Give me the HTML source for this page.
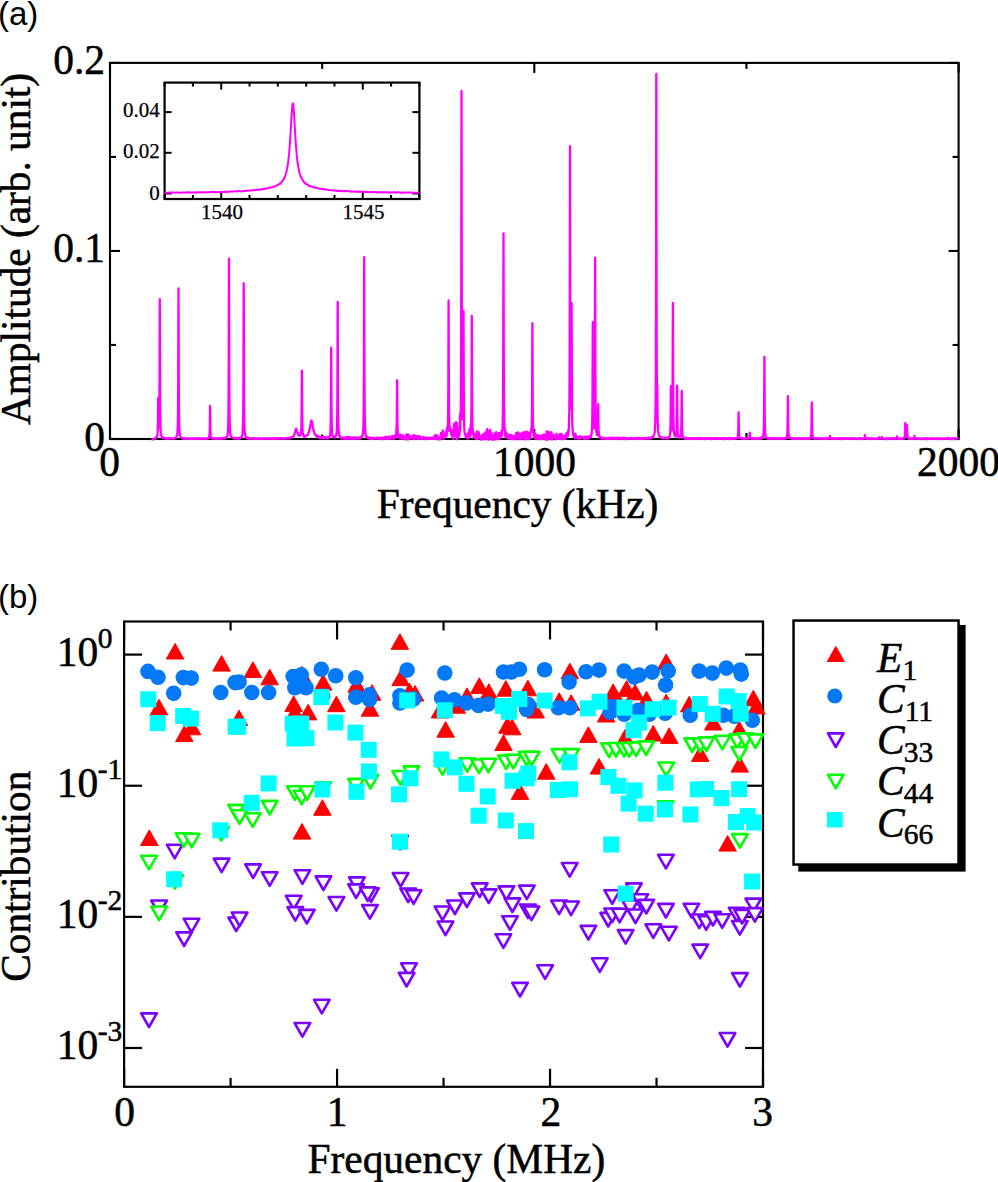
<!DOCTYPE html>
<html><head><meta charset="utf-8"><title>Figure</title>
<style>html,body{margin:0;padding:0;background:#fff;} svg{display:block;}</style>
</head><body>
<svg width="998" height="1182" viewBox="0 0 998 1182"><style>text{stroke:#000;stroke-width:0.5px;}</style><rect x="110.0" y="62.9" width="848.6" height="376.1" fill="none" stroke="#000" stroke-width="2.1"/>
<line x1="110.0" y1="439.0" x2="110.0" y2="429.0" stroke="#000" stroke-width="2.1"/>
<line x1="110.0" y1="62.9" x2="110.0" y2="72.9" stroke="#000" stroke-width="2.1"/>
<line x1="322.15" y1="439.0" x2="322.15" y2="434.5" stroke="#000" stroke-width="2.1"/>
<line x1="322.15" y1="62.9" x2="322.15" y2="68.9" stroke="#000" stroke-width="2.1"/>
<line x1="534.3" y1="439.0" x2="534.3" y2="429.0" stroke="#000" stroke-width="2.1"/>
<line x1="534.3" y1="62.9" x2="534.3" y2="72.9" stroke="#000" stroke-width="2.1"/>
<line x1="746.45" y1="439.0" x2="746.45" y2="433.0" stroke="#000" stroke-width="2.1"/>
<line x1="746.45" y1="62.9" x2="746.45" y2="68.9" stroke="#000" stroke-width="2.1"/>
<line x1="958.6" y1="439.0" x2="958.6" y2="429.0" stroke="#000" stroke-width="2.1"/>
<line x1="958.6" y1="62.9" x2="958.6" y2="72.9" stroke="#000" stroke-width="2.1"/>
<line x1="110.0" y1="439.0" x2="120.0" y2="439.0" stroke="#000" stroke-width="2.1"/>
<line x1="958.6" y1="439.0" x2="948.6" y2="439.0" stroke="#000" stroke-width="2.1"/>
<line x1="110.0" y1="344.975" x2="116.0" y2="344.975" stroke="#000" stroke-width="2.1"/>
<line x1="958.6" y1="344.975" x2="952.6" y2="344.975" stroke="#000" stroke-width="2.1"/>
<line x1="110.0" y1="250.95" x2="120.0" y2="250.95" stroke="#000" stroke-width="2.1"/>
<line x1="958.6" y1="250.95" x2="948.6" y2="250.95" stroke="#000" stroke-width="2.1"/>
<line x1="110.0" y1="156.925" x2="116.0" y2="156.925" stroke="#000" stroke-width="2.1"/>
<line x1="958.6" y1="156.925" x2="952.6" y2="156.925" stroke="#000" stroke-width="2.1"/>
<line x1="110.0" y1="62.89999999999998" x2="120.0" y2="62.89999999999998" stroke="#000" stroke-width="2.1"/>
<line x1="958.6" y1="62.89999999999998" x2="948.6" y2="62.89999999999998" stroke="#000" stroke-width="2.1"/>
<polyline fill="none" stroke="#ff00ff" stroke-width="2.3" stroke-linejoin="round" points="151.50,439.8 151.75,439.7 152.00,439.6 152.25,439.6 152.50,439.3 152.75,439.2 153.00,439.2 153.25,439.1 153.50,439.1 153.75,439.0 154.00,438.8 154.25,438.6 154.50,438.5 154.75,438.6 155.00,438.4 155.25,438.0 155.50,438.2 155.75,438.0 156.00,438.0 156.25,437.6 156.50,437.3 156.75,437.1 157.00,436.7 157.25,435.9 157.50,434.2 157.60,432.9 157.75,429.7 157.80,428.3 157.95,420.2 158.00,415.8 158.08,407.1 158.20,398.0 158.25,399.7 158.32,406.4 158.45,418.6 158.50,421.6 158.60,425.2 158.75,427.7 158.80,427.8 159.00,426.4 159.20,420.4 159.25,418.1 159.40,405.4 159.50,389.1 159.55,377.2 159.68,330.8 159.75,305.9 159.80,299.1 159.92,331.0 160.00,362.1 160.05,377.5 160.20,406.0 160.25,411.5 160.40,421.9 160.50,426.1 160.75,431.6 161.00,433.9 161.25,435.1 161.50,436.1 161.75,437.0 162.00,437.4 162.25,437.6 162.50,437.1 162.75,437.3 163.00,438.0 163.25,438.1 163.50,438.2 163.75,438.3 164.00,437.8 164.25,438.3 164.50,438.4 164.75,438.1 165.00,438.5 165.25,438.1 165.50,438.3 165.75,438.5 166.00,438.6 166.25,438.2 166.50,438.6 166.75,438.4 167.00,438.8 167.25,438.7 167.50,438.5 167.75,438.4 168.00,438.6 168.25,438.3 168.50,438.6 168.75,438.2 169.00,438.0 169.25,438.5 169.50,438.8 169.75,438.1 170.00,438.4 170.25,438.3 170.50,438.2 170.75,438.4 171.00,438.4 171.25,438.4 171.50,438.6 171.75,438.5 172.00,438.7 172.25,438.5 172.50,438.5 172.75,438.6 173.00,438.6 173.25,438.6 173.50,438.4 173.75,438.2 174.00,438.5 174.25,438.5 174.50,438.4 174.75,438.4 175.00,438.2 175.25,438.0 175.50,437.8 175.75,437.6 176.00,437.2 176.25,436.9 176.50,436.8 176.75,436.3 177.00,435.0 177.25,434.1 177.50,431.5 177.75,427.0 177.90,421.0 178.00,414.3 178.10,403.9 178.25,373.2 178.38,322.8 178.50,288.4 178.62,322.8 178.75,373.0 178.90,403.9 179.00,414.1 179.10,421.0 179.25,427.0 179.50,431.9 179.75,433.9 180.00,435.8 180.25,436.5 180.50,436.8 180.75,437.3 181.00,437.3 181.25,437.6 181.50,437.7 181.75,437.8 182.00,437.8 182.25,438.1 182.50,438.4 182.75,438.3 183.00,438.1 183.25,438.4 183.50,438.4 183.75,438.0 184.00,438.7 184.25,438.5 184.50,438.3 184.75,438.5 185.00,438.6 185.25,438.4 185.50,438.7 185.75,438.8 186.00,438.4 186.25,438.7 186.50,438.4 186.75,438.6 187.00,438.6 187.25,438.8 187.50,438.6 187.75,438.8 188.00,438.3 188.25,438.9 188.50,438.1 188.75,438.3 189.00,438.3 189.25,438.5 189.50,438.5 189.75,438.8 190.00,438.9 190.25,438.8 190.50,438.7 190.75,438.9 191.00,438.9 191.25,438.6 191.50,438.4 191.75,438.7 192.00,438.6 192.25,438.2 192.50,438.9 192.75,438.9 193.00,438.6 193.25,438.6 193.50,438.8 193.75,438.8 194.00,438.7 194.25,438.8 194.50,438.6 194.75,438.5 195.00,438.9 195.25,438.9 195.50,438.7 195.75,438.3 196.00,438.8 196.25,438.9 196.50,438.9 196.75,438.2 197.00,438.5 197.25,438.2 197.50,438.3 197.75,438.5 198.00,438.8 198.25,438.6 198.50,438.7 198.75,438.3 199.00,438.4 199.25,438.3 199.50,438.6 199.75,438.4 200.00,438.7 200.25,438.8 200.50,438.3 200.75,438.3 201.00,438.7 201.25,438.5 201.50,438.6 201.75,438.7 202.00,438.7 202.25,438.5 202.50,438.7 202.75,438.8 203.00,438.8 203.25,438.9 203.50,438.7 203.75,438.5 204.00,438.7 204.25,438.9 204.50,438.8 204.75,438.6 205.00,438.7 205.25,438.7 205.50,438.7 205.75,438.7 206.00,438.6 206.25,438.3 206.50,438.5 206.75,438.4 207.00,438.4 207.25,438.2 207.50,438.7 207.75,438.5 208.00,438.3 208.25,438.2 208.50,438.2 208.75,437.4 209.00,437.0 209.25,436.5 209.50,434.8 209.70,431.2 209.75,429.5 209.85,424.5 209.98,413.5 210.00,411.6 210.10,406.0 210.22,413.5 210.25,416.3 210.35,424.4 210.50,431.2 210.70,434.9 210.75,435.4 211.00,436.6 211.25,437.6 211.50,437.8 211.75,438.3 212.00,438.5 212.25,438.0 212.50,438.3 212.75,438.5 213.00,438.5 213.25,438.6 213.50,438.5 213.75,438.6 214.00,438.6 214.25,438.6 214.50,438.3 214.75,438.2 215.00,438.3 215.25,438.6 215.50,438.4 215.75,438.4 216.00,438.8 216.25,438.7 216.50,438.8 216.75,438.8 217.00,438.8 217.25,438.3 217.50,438.6 217.75,438.8 218.00,438.2 218.25,438.4 218.50,438.6 218.75,438.7 219.00,438.5 219.25,438.4 219.50,438.5 219.75,438.4 220.00,438.1 220.25,438.8 220.50,438.1 220.75,438.6 221.00,438.3 221.25,438.5 221.50,438.5 221.75,438.2 222.00,438.8 222.25,438.7 222.50,438.5 222.75,438.5 223.00,438.5 223.25,438.4 223.50,438.2 223.75,438.3 224.00,437.8 224.25,437.9 224.50,438.1 224.75,437.9 225.00,438.1 225.25,438.3 225.50,437.9 225.75,437.6 226.00,437.5 226.25,437.4 226.50,437.3 226.75,436.9 227.00,436.7 227.25,436.0 227.50,435.0 227.75,433.3 228.00,430.4 228.25,424.2 228.40,417.3 228.50,409.5 228.60,397.0 228.75,360.1 228.88,300.0 229.00,258.7 229.12,300.0 229.25,360.1 229.40,396.8 229.50,409.4 229.60,417.2 229.75,424.1 230.00,430.2 230.25,433.0 230.50,435.1 230.75,435.7 231.00,436.0 231.25,436.7 231.50,437.2 231.75,437.4 232.00,437.2 232.25,437.6 232.50,437.7 232.75,437.8 233.00,437.8 233.25,438.1 233.50,438.1 233.75,438.4 234.00,438.2 234.25,438.5 234.50,438.0 234.75,438.1 235.00,438.4 235.25,437.9 235.50,438.5 235.75,438.2 236.00,438.4 236.25,438.3 236.50,438.5 236.75,438.3 237.00,438.2 237.25,438.6 237.50,438.0 237.75,438.5 238.00,438.2 238.25,438.5 238.50,438.0 238.75,438.2 239.00,438.4 239.25,438.5 239.50,438.4 239.75,437.9 240.00,437.8 240.25,437.5 240.50,437.8 240.75,437.8 241.00,437.8 241.25,437.5 241.50,436.9 241.75,436.9 242.00,436.0 242.25,435.4 242.50,433.7 242.75,430.7 243.00,424.5 243.10,420.1 243.25,408.7 243.30,402.6 243.45,370.8 243.50,353.5 243.58,318.8 243.70,283.1 243.75,290.7 243.82,318.7 243.95,370.9 244.00,384.4 244.10,402.7 244.25,417.4 244.30,420.0 244.50,427.8 244.75,432.3 245.00,434.3 245.25,435.3 245.50,436.4 245.75,436.9 246.00,437.3 246.25,437.7 246.50,437.7 246.75,438.0 247.00,437.5 247.25,437.8 247.50,438.2 247.75,438.3 248.00,437.8 248.25,438.0 248.50,438.6 248.75,438.4 249.00,438.1 249.25,438.5 249.50,438.2 249.75,438.7 250.00,438.5 250.25,438.3 250.50,438.4 250.75,438.5 251.00,438.4 251.25,438.7 251.50,438.8 251.75,438.1 252.00,438.5 252.25,438.2 252.50,438.4 252.75,438.8 253.00,438.4 253.25,438.8 253.50,438.8 253.75,438.7 254.00,438.8 254.25,438.1 254.50,438.5 254.75,438.5 255.00,438.7 255.25,438.5 255.50,438.8 255.75,438.8 256.00,438.6 256.25,438.6 256.50,438.9 256.75,438.7 257.00,438.5 257.25,438.9 257.50,438.9 257.75,438.8 258.00,438.8 258.25,438.5 258.50,438.7 258.75,438.4 259.00,438.2 259.25,438.5 259.50,438.3 259.75,438.7 260.00,438.6 260.25,438.4 260.50,438.6 260.75,438.9 261.00,438.6 261.25,438.8 261.50,438.9 261.75,438.8 262.00,438.5 262.25,438.8 262.50,438.6 262.75,438.3 263.00,438.7 263.25,438.8 263.50,438.3 263.75,438.2 264.00,438.6 264.25,438.4 264.50,438.7 264.75,438.3 265.00,438.3 265.25,438.4 265.50,438.4 265.75,438.5 266.00,438.3 266.25,438.9 266.50,438.9 266.75,438.7 267.00,438.2 267.25,438.9 267.50,438.6 267.75,438.5 268.00,438.6 268.25,438.4 268.50,438.2 268.75,438.5 269.00,438.8 269.25,438.8 269.50,438.8 269.75,438.7 270.00,438.6 270.25,438.9 270.50,438.4 270.75,438.6 271.00,438.7 271.25,438.6 271.50,438.2 271.75,438.5 272.00,438.3 272.25,438.5 272.50,438.8 272.75,438.5 273.00,438.5 273.25,438.3 273.50,438.3 273.75,438.8 274.00,438.3 274.25,438.9 274.50,438.7 274.75,438.5 275.00,438.7 275.25,438.8 275.50,438.4 275.75,438.3 276.00,438.5 276.25,438.1 276.50,438.2 276.75,438.8 277.00,438.8 277.25,438.7 277.50,438.8 277.75,438.1 278.00,438.4 278.25,438.3 278.50,438.4 278.75,438.0 279.00,438.3 279.25,438.5 279.50,438.6 279.75,438.5 280.00,438.6 280.25,438.1 280.50,438.2 280.75,438.5 281.00,438.1 281.25,438.6 281.50,438.5 281.75,438.7 282.00,438.7 282.25,438.3 282.50,438.5 282.75,438.3 283.00,438.7 283.25,438.7 283.50,438.7 283.75,438.4 284.00,438.7 284.25,438.7 284.50,438.6 284.75,438.7 285.00,438.7 285.25,438.5 285.50,438.3 285.75,438.0 286.00,438.5 286.25,438.3 286.50,438.4 286.75,438.1 287.00,438.2 287.25,438.1 287.50,437.8 287.75,437.9 288.00,438.3 288.25,438.1 288.50,438.0 288.75,438.0 289.00,437.9 289.25,438.0 289.50,437.8 289.75,437.7 290.00,438.0 290.25,438.1 290.50,437.4 290.75,438.0 291.00,437.6 291.25,437.5 291.50,437.6 291.75,437.3 292.00,437.1 292.25,437.3 292.50,436.8 292.75,436.8 293.00,436.8 293.25,436.7 293.50,436.0 293.75,435.9 294.00,435.3 294.25,434.9 294.50,433.8 294.75,433.2 295.00,432.2 295.25,431.4 295.50,430.4 295.75,429.1 296.00,429.4 296.25,428.6 296.50,429.5 296.75,430.3 297.00,431.2 297.25,432.2 297.50,432.9 297.75,433.7 298.00,433.3 298.25,434.1 298.50,435.2 298.75,435.5 299.00,435.7 299.25,435.5 299.50,435.6 299.75,435.2 300.00,435.3 300.25,435.4 300.50,434.6 300.75,434.4 301.00,433.3 301.25,430.2 301.30,429.6 301.50,421.6 301.65,408.3 301.75,391.8 301.78,385.9 301.90,370.6 302.00,382.1 302.02,385.9 302.15,408.1 302.25,418.2 302.30,421.8 302.50,429.7 302.75,432.7 303.00,434.1 303.25,434.6 303.50,435.5 303.75,436.3 304.00,436.1 304.25,436.7 304.50,436.9 304.75,436.8 305.00,436.5 305.25,436.0 305.50,436.6 305.75,435.7 306.00,435.7 306.25,435.7 306.50,435.5 306.75,435.4 307.00,435.3 307.25,435.1 307.50,435.1 307.75,434.9 308.00,434.4 308.25,434.0 308.50,432.8 308.75,432.8 309.00,431.3 309.25,430.7 309.50,429.3 309.75,429.0 310.00,427.5 310.25,425.9 310.50,424.7 310.75,423.4 311.00,421.4 311.25,421.5 311.50,420.4 311.75,421.4 312.00,421.8 312.25,423.1 312.50,424.6 312.75,426.2 313.00,427.1 313.25,429.0 313.50,429.7 313.75,431.2 314.00,431.5 314.25,432.9 314.50,433.4 314.75,434.2 315.00,434.6 315.25,434.3 315.50,434.3 315.75,435.1 316.00,436.0 316.25,436.1 316.50,436.5 316.75,436.4 317.00,435.5 317.25,436.7 317.50,436.3 317.75,436.4 318.00,436.8 318.25,437.5 318.50,436.3 318.75,437.5 319.00,437.4 319.25,437.4 319.50,437.9 319.75,437.6 320.00,437.5 320.25,437.6 320.50,437.1 320.75,437.9 321.00,438.1 321.25,438.2 321.50,438.1 321.75,438.2 322.00,436.8 322.25,438.2 322.50,438.3 322.75,438.3 323.00,438.2 323.25,438.3 323.50,436.9 323.75,437.1 324.00,437.3 324.25,437.8 324.50,438.2 324.75,437.6 325.00,438.5 325.25,437.3 325.50,437.6 325.75,437.2 326.00,438.2 326.25,438.2 326.50,438.3 326.75,438.3 327.00,438.3 327.25,437.0 327.50,437.2 327.75,437.7 328.00,437.9 328.25,437.5 328.50,437.2 328.75,437.5 329.00,437.3 329.25,437.6 329.50,437.1 329.75,435.9 330.00,435.6 330.25,434.0 330.50,430.5 330.60,427.4 330.75,420.9 330.80,417.2 330.95,398.8 331.00,388.7 331.08,368.5 331.20,347.7 331.25,352.1 331.32,368.5 331.45,398.7 331.50,406.7 331.60,417.3 331.75,425.7 331.80,427.6 332.00,432.0 332.25,434.0 332.50,435.4 332.75,436.5 333.00,437.2 333.25,436.8 333.50,437.4 333.75,437.3 334.00,437.5 334.25,436.5 334.50,437.7 334.75,437.5 335.00,436.8 335.25,437.0 335.50,436.2 335.75,436.1 336.00,435.9 336.25,435.4 336.50,434.0 336.75,431.1 337.00,425.4 337.10,421.9 337.25,412.3 337.30,406.8 337.45,378.9 337.50,363.8 337.58,333.2 337.70,302.0 337.75,308.7 337.82,333.2 337.95,378.8 338.00,390.9 338.10,406.7 338.25,419.3 338.30,422.5 338.50,428.6 338.75,431.5 339.00,433.6 339.25,435.7 339.50,435.2 339.75,437.0 340.00,437.0 340.25,437.0 340.50,437.0 340.75,437.6 341.00,437.4 341.25,438.4 341.50,438.2 341.75,438.4 342.00,437.7 342.25,438.4 342.50,438.5 342.75,437.9 343.00,438.1 343.25,438.5 343.50,438.7 343.75,438.7 344.00,437.5 344.25,438.0 344.50,438.6 344.75,438.4 345.00,438.3 345.25,438.8 345.50,438.8 345.75,437.6 346.00,437.3 346.25,437.2 346.50,437.3 346.75,438.1 347.00,437.0 347.25,437.7 347.50,438.9 347.75,438.4 348.00,437.8 348.25,437.1 348.50,437.9 348.75,438.4 349.00,438.4 349.25,437.2 349.50,438.6 349.75,438.7 350.00,438.8 350.25,437.1 350.50,438.3 350.75,438.0 351.00,438.3 351.25,438.6 351.50,438.6 351.75,438.0 352.00,438.8 352.25,438.6 352.50,437.6 352.75,438.2 353.00,437.5 353.25,438.7 353.50,438.9 353.75,437.4 354.00,438.9 354.25,437.6 354.50,438.2 354.75,438.9 355.00,438.8 355.25,437.5 355.50,438.3 355.75,438.8 356.00,437.6 356.25,437.5 356.50,437.3 356.75,437.4 357.00,437.4 357.25,438.1 357.50,438.0 357.75,438.0 358.00,438.5 358.25,438.6 358.50,438.2 358.75,438.5 359.00,437.3 359.25,437.7 359.50,438.6 359.75,438.5 360.00,437.6 360.25,437.7 360.50,437.5 360.75,437.8 361.00,437.9 361.25,436.6 361.50,437.5 361.75,437.4 362.00,436.9 362.25,435.5 362.50,436.0 362.75,434.8 363.00,432.9 363.25,429.5 363.50,422.3 363.60,416.9 363.75,403.2 363.80,396.3 363.95,359.4 364.00,339.2 364.08,298.8 364.20,257.1 364.25,266.0 364.32,298.7 364.45,359.6 364.50,375.2 364.60,396.4 364.75,413.4 364.80,416.7 365.00,425.7 365.25,431.2 365.50,433.3 365.75,435.4 366.00,436.1 366.25,436.0 366.50,437.2 366.75,436.2 367.00,437.4 367.25,437.5 367.50,437.9 367.75,437.7 368.00,437.0 368.25,437.3 368.50,438.0 368.75,438.1 369.00,437.7 369.25,438.6 369.50,438.2 369.75,438.2 370.00,438.2 370.25,438.7 370.50,438.6 370.75,437.7 371.00,437.8 371.25,438.8 371.50,438.7 371.75,438.4 372.00,438.9 372.25,437.8 372.50,437.6 372.75,438.0 373.00,438.3 373.25,438.8 373.50,438.2 373.75,438.2 374.00,438.2 374.25,438.4 374.50,438.1 374.75,438.5 375.00,438.6 375.25,438.2 375.50,437.9 375.75,438.7 376.00,438.1 376.25,437.9 376.50,438.4 376.75,438.1 377.00,437.9 377.25,437.6 377.50,438.2 377.75,437.5 378.00,438.1 378.25,438.1 378.50,438.0 378.75,438.9 379.00,438.5 379.25,438.6 379.50,438.7 379.75,438.9 380.00,437.8 380.25,438.8 380.50,437.6 380.75,438.9 381.00,437.5 381.25,438.2 381.50,438.2 381.75,439.0 382.00,438.8 382.25,439.0 382.50,438.0 382.75,438.2 383.00,437.7 383.25,438.1 383.50,437.8 383.75,439.0 384.00,438.2 384.25,437.3 384.50,437.4 384.75,438.0 385.00,437.6 385.25,438.0 385.50,438.6 385.75,438.5 386.00,436.7 386.25,437.8 386.50,437.6 386.75,438.3 387.00,438.8 387.25,438.8 387.50,438.1 387.75,437.5 388.00,437.1 388.25,437.8 388.50,438.7 388.75,438.6 389.00,436.4 389.25,438.9 389.50,438.9 389.75,438.8 390.00,437.5 390.25,438.1 390.50,438.5 390.75,438.4 391.00,438.2 391.25,437.6 391.50,436.5 391.75,436.3 392.00,436.1 392.25,436.3 392.50,437.0 392.75,436.8 393.00,436.1 393.25,437.1 393.50,438.6 393.75,438.2 394.00,439.0 394.25,435.7 394.50,436.7 394.75,437.0 395.00,435.9 395.25,437.2 395.50,436.6 395.75,437.2 396.00,435.7 396.25,431.9 396.50,429.7 396.70,425.4 396.75,421.3 396.85,412.9 396.98,393.6 397.00,390.3 397.10,380.2 397.22,393.6 397.25,398.4 397.35,412.5 397.50,424.2 397.70,431.5 397.75,432.5 398.00,434.9 398.25,435.6 398.50,437.6 398.75,436.5 399.00,438.1 399.25,437.4 399.50,434.6 399.75,438.3 400.00,437.9 400.25,438.0 400.50,436.6 400.75,435.0 401.00,438.1 401.25,437.7 401.50,437.4 401.75,438.9 402.00,435.5 402.25,437.0 402.50,436.9 402.75,438.6 403.00,438.1 403.25,435.3 403.50,437.5 403.75,437.1 404.00,438.8 404.25,439.1 404.50,438.8 404.75,438.4 405.00,439.0 405.25,439.2 405.50,436.3 405.75,439.0 406.00,436.7 406.25,436.5 406.50,434.4 406.75,435.2 407.00,439.2 407.25,437.8 407.50,439.3 407.75,435.0 408.00,439.3 408.25,434.5 408.50,436.4 408.75,437.0 409.00,437.3 409.25,439.1 409.50,436.5 409.75,437.8 410.00,436.7 410.25,437.3 410.50,436.1 410.75,436.4 411.00,437.8 411.25,437.9 411.50,437.9 411.75,436.9 412.00,436.7 412.25,438.5 412.50,436.7 412.75,437.0 413.00,437.9 413.25,435.5 413.50,435.3 413.75,435.9 414.00,439.1 414.25,438.2 414.50,435.2 414.75,436.7 415.00,438.5 415.25,438.0 415.50,437.6 415.75,437.1 416.00,436.8 416.25,438.4 416.50,438.4 416.75,438.3 417.00,438.5 417.25,438.6 417.50,435.9 417.75,437.1 418.00,435.9 418.25,438.9 418.50,438.4 418.75,438.9 419.00,439.0 419.25,437.6 419.50,436.1 419.75,436.7 420.00,437.0 420.25,436.5 420.50,437.3 420.75,437.3 421.00,438.0 421.25,438.5 421.50,438.9 421.75,438.7 422.00,437.8 422.25,438.4 422.50,438.7 422.75,438.4 423.00,438.2 423.25,438.4 423.50,436.8 423.75,438.0 424.00,437.5 424.25,437.7 424.50,439.0 424.75,438.9 425.00,437.8 425.25,438.8 425.50,438.3 425.75,438.5 426.00,439.0 426.25,437.6 426.50,438.2 426.75,438.4 427.00,437.6 427.25,437.8 427.50,438.5 427.75,438.7 428.00,437.9 428.25,438.1 428.50,438.1 428.75,438.2 429.00,438.9 429.25,437.9 429.50,439.0 429.75,437.9 430.00,438.6 430.25,438.4 430.50,438.6 430.75,437.8 431.00,438.0 431.25,438.9 431.50,438.8 431.75,438.0 432.00,437.5 432.25,438.0 432.50,438.9 432.75,437.6 433.00,437.7 433.25,437.6 433.50,437.1 433.75,437.4 434.00,438.8 434.25,438.9 434.50,435.8 434.75,437.7 435.00,436.0 435.25,438.2 435.50,435.2 435.75,439.0 436.00,437.1 436.25,436.9 436.50,436.4 436.75,436.8 437.00,435.2 437.25,435.6 437.50,436.0 437.75,437.4 438.00,437.6 438.25,439.3 438.50,439.0 438.75,438.7 439.00,439.3 439.25,439.3 439.50,438.6 439.75,437.8 440.00,439.3 440.25,439.4 440.50,435.6 440.75,439.0 441.00,432.8 441.25,435.9 441.50,433.2 441.75,435.2 442.00,435.3 442.25,436.8 442.50,436.7 442.75,430.3 443.00,436.3 443.25,436.2 443.50,435.1 443.75,438.8 444.00,437.4 444.25,437.4 444.50,435.6 444.75,436.1 445.00,435.4 445.25,434.7 445.50,432.3 445.75,431.6 446.00,431.9 446.25,434.7 446.50,436.6 446.75,434.3 447.00,428.0 447.25,427.1 447.50,429.7 447.75,430.8 448.00,422.6 448.20,406.9 448.25,399.7 448.35,377.3 448.48,332.2 448.50,323.7 448.60,300.3 448.72,331.1 448.75,343.6 448.85,377.5 449.00,404.7 449.20,418.4 449.25,420.5 449.50,430.2 449.75,431.1 450.00,427.0 450.25,430.4 450.50,428.8 450.75,430.6 451.00,434.3 451.25,434.8 451.50,429.6 451.75,434.4 452.00,434.8 452.25,435.7 452.50,438.2 452.75,433.3 453.00,438.8 453.25,432.4 453.50,434.0 453.75,436.4 454.00,423.7 454.25,426.6 454.50,435.5 454.75,426.5 455.00,431.1 455.25,429.8 455.50,433.7 455.75,429.4 456.00,422.2 456.25,434.1 456.50,439.1 456.75,423.0 457.00,431.2 457.25,439.2 457.50,435.6 457.75,432.3 458.00,434.6 458.25,435.5 458.50,436.6 458.75,433.6 459.00,427.2 459.25,436.3 459.50,433.7 459.75,432.1 460.00,414.4 460.25,429.5 460.50,413.1 460.75,410.2 460.90,397.9 461.00,376.0 461.10,354.4 461.25,284.4 461.38,170.3 461.50,91.0 461.62,169.5 461.75,286.1 461.90,351.7 462.00,376.8 462.10,394.5 462.25,399.5 462.50,405.7 462.75,419.4 462.90,415.7 463.00,411.9 463.10,402.0 463.25,379.6 463.38,338.7 463.50,310.8 463.62,339.8 463.75,380.8 463.90,406.1 464.00,412.7 464.10,416.9 464.25,427.2 464.50,432.2 464.75,433.0 465.00,434.4 465.25,434.3 465.50,434.0 465.75,437.1 466.00,434.3 466.25,436.4 466.50,437.6 466.75,437.5 467.00,437.8 467.25,438.2 467.50,436.6 467.75,438.5 468.00,437.9 468.25,436.4 468.50,432.2 468.75,434.8 469.00,434.9 469.25,432.8 469.50,429.0 469.75,432.8 470.00,436.3 470.25,436.6 470.50,434.1 470.75,424.1 471.00,430.1 471.20,421.7 471.25,417.6 471.40,410.0 471.50,395.7 471.55,384.8 471.68,343.9 471.75,321.7 471.80,315.8 471.92,343.6 472.00,371.3 472.05,384.0 472.20,408.6 472.25,415.4 472.40,420.5 472.50,426.6 472.75,433.3 473.00,430.4 473.25,434.3 473.50,432.8 473.75,437.5 474.00,434.4 474.25,435.2 474.50,437.5 474.75,437.8 475.00,437.4 475.25,434.1 475.50,436.6 475.75,437.2 476.00,438.9 476.25,438.4 476.50,438.5 476.75,439.0 477.00,431.4 477.25,435.0 477.50,435.3 477.75,439.0 478.00,434.6 478.25,435.4 478.50,435.8 478.75,432.2 479.00,436.1 479.25,437.7 479.50,436.2 479.75,437.4 480.00,436.1 480.25,437.1 480.50,438.9 480.75,438.3 481.00,439.5 481.25,437.3 481.50,439.3 481.75,436.8 482.00,439.4 482.25,434.7 482.50,439.4 482.75,436.4 483.00,439.4 483.25,434.4 483.50,435.6 483.75,435.0 484.00,435.4 484.25,434.9 484.50,438.0 484.75,433.0 485.00,437.3 485.25,433.8 485.50,439.3 485.75,439.3 486.00,436.2 486.25,435.2 486.50,430.8 486.75,430.3 487.00,437.9 487.25,429.0 487.50,431.8 487.75,438.1 488.00,433.3 488.25,439.7 488.50,435.0 488.75,431.5 489.00,439.5 489.25,432.3 489.50,434.3 489.75,431.4 490.00,438.5 490.25,429.9 490.50,437.6 490.75,434.2 491.00,432.7 491.25,434.4 491.50,433.8 491.75,439.6 492.00,439.7 492.25,439.1 492.50,438.7 492.75,437.1 493.00,436.3 493.25,437.8 493.50,438.4 493.75,439.6 494.00,435.6 494.25,433.3 494.50,438.9 494.75,439.3 495.00,435.3 495.25,437.0 495.50,436.4 495.75,436.0 496.00,439.5 496.25,432.1 496.50,436.3 496.75,434.9 497.00,439.2 497.25,437.4 497.50,438.8 497.75,436.7 498.00,435.8 498.25,433.3 498.50,438.4 498.75,439.1 499.00,432.9 499.25,432.9 499.50,433.9 499.75,433.4 500.00,435.0 500.25,433.9 500.50,435.9 500.75,437.8 501.00,437.3 501.25,436.1 501.50,433.4 501.75,430.6 502.00,434.5 502.25,429.9 502.50,429.8 502.75,420.9 502.90,411.6 503.00,403.6 503.10,389.3 503.25,347.9 503.38,280.0 503.50,233.4 503.62,280.2 503.75,349.4 503.90,390.1 504.00,405.7 504.10,414.2 504.25,419.0 504.50,429.7 504.75,430.5 505.00,428.9 505.25,436.3 505.50,436.8 505.75,437.5 506.00,435.0 506.25,432.4 506.50,434.5 506.75,436.2 507.00,437.5 507.25,435.3 507.50,437.1 507.75,437.6 508.00,434.6 508.25,438.5 508.50,437.3 508.75,438.2 509.00,438.5 509.25,435.0 509.50,436.4 509.75,436.7 510.00,438.2 510.25,436.2 510.50,439.1 510.75,437.6 511.00,436.6 511.25,435.3 511.50,434.9 511.75,437.1 512.00,437.2 512.25,436.8 512.50,439.0 512.75,436.9 513.00,436.0 513.25,439.2 513.50,437.2 513.75,436.2 514.00,436.1 514.25,437.3 514.50,438.7 514.75,437.2 515.00,439.1 515.25,438.8 515.50,438.9 515.75,439.0 516.00,433.1 516.25,435.2 516.50,436.2 516.75,434.7 517.00,433.1 517.25,433.5 517.50,432.6 517.75,436.6 518.00,437.6 518.25,432.5 518.50,439.3 518.75,437.3 519.00,433.4 519.25,436.3 519.50,435.5 519.75,433.7 520.00,433.8 520.25,435.9 520.50,437.6 520.75,437.6 521.00,439.0 521.25,439.2 521.50,438.7 521.75,437.6 522.00,436.5 522.25,433.4 522.50,432.8 522.75,432.7 523.00,435.8 523.25,433.8 523.50,432.3 523.75,438.1 524.00,437.1 524.25,439.4 524.50,439.0 524.75,433.0 525.00,435.0 525.25,431.8 525.50,435.1 525.75,434.6 526.00,439.1 526.25,434.1 526.50,436.7 526.75,432.0 527.00,431.7 527.25,432.8 527.50,436.1 527.75,437.5 528.00,439.4 528.25,437.5 528.50,437.1 528.75,434.3 529.00,434.8 529.25,433.4 529.50,432.3 529.75,438.5 530.00,438.1 530.25,437.7 530.50,433.1 530.75,431.7 531.00,432.2 531.25,428.6 531.50,428.5 531.75,426.7 531.80,424.4 532.00,411.6 532.15,387.8 532.25,360.0 532.28,349.4 532.40,323.2 532.50,342.8 532.52,349.6 532.65,388.2 532.75,406.1 532.80,412.0 533.00,425.3 533.25,427.8 533.50,433.2 533.75,435.7 534.00,433.9 534.25,436.2 534.50,438.1 534.75,438.4 535.00,436.8 535.25,438.0 535.50,434.2 535.75,437.0 536.00,436.6 536.25,437.7 536.50,438.9 536.75,437.9 537.00,439.0 537.25,437.7 537.50,435.1 537.75,438.6 538.00,438.6 538.25,438.0 538.50,437.7 538.75,436.8 539.00,436.4 539.25,439.2 539.50,435.4 539.75,438.7 540.00,438.5 540.25,438.5 540.50,436.6 540.75,439.1 541.00,438.5 541.25,438.1 541.50,435.9 541.75,437.4 542.00,439.1 542.25,437.0 542.50,438.8 542.75,434.9 543.00,437.0 543.25,436.5 543.50,436.7 543.75,438.0 544.00,438.8 544.25,434.4 544.50,436.2 544.75,436.5 545.00,438.6 545.25,438.6 545.50,435.5 545.75,439.6 546.00,437.5 546.25,439.5 546.50,438.2 546.75,431.3 547.00,437.4 547.25,431.4 547.50,437.0 547.75,439.6 548.00,434.1 548.25,435.7 548.50,435.3 548.75,432.1 549.00,437.1 549.25,434.3 549.50,432.6 549.75,432.7 550.00,434.0 550.25,436.3 550.50,437.9 550.75,439.2 551.00,436.7 551.25,432.2 551.50,439.1 551.75,439.3 552.00,436.8 552.25,438.7 552.50,439.4 552.75,435.2 553.00,435.1 553.25,434.4 553.50,438.1 553.75,437.8 554.00,436.8 554.25,436.9 554.50,437.9 554.75,435.9 555.00,437.1 555.25,436.2 555.50,436.8 555.75,436.7 556.00,439.3 556.25,435.3 556.50,433.6 556.75,437.9 557.00,438.3 557.25,438.2 557.50,437.0 557.75,438.9 558.00,437.6 558.25,435.4 558.50,435.8 558.75,437.0 559.00,438.9 559.25,438.1 559.50,438.6 559.75,437.9 560.00,433.9 560.25,434.6 560.50,437.3 560.75,439.2 561.00,435.0 561.25,435.8 561.50,434.1 561.75,435.8 562.00,434.6 562.25,437.8 562.50,438.4 562.75,436.4 563.00,439.1 563.25,436.3 563.50,436.3 563.75,438.8 564.00,436.1 564.25,437.1 564.50,437.9 564.75,436.2 565.00,438.8 565.25,434.8 565.50,438.0 565.75,438.0 566.00,436.1 566.25,436.0 566.50,432.8 566.75,437.0 567.00,434.3 567.25,432.8 567.50,434.4 567.75,436.2 568.00,435.4 568.25,430.4 568.50,432.5 568.75,429.8 569.00,422.9 569.25,412.6 569.40,402.5 569.50,388.3 569.60,368.0 569.75,309.7 569.88,212.6 570.00,146.2 570.12,212.3 570.25,308.8 570.40,366.8 570.50,385.5 570.60,396.0 570.75,407.7 571.00,409.2 571.20,399.3 571.25,393.3 571.35,373.3 571.48,331.7 571.50,324.7 571.60,303.0 571.72,333.6 571.75,345.0 571.85,378.0 572.00,405.1 572.20,419.6 572.25,421.8 572.50,428.0 572.75,431.2 573.00,434.3 573.25,434.3 573.50,435.6 573.75,434.3 574.00,436.0 574.25,437.7 574.50,436.9 574.75,436.1 575.00,438.2 575.25,433.6 575.50,434.2 575.75,436.0 576.00,435.6 576.25,436.2 576.50,438.2 576.75,436.8 577.00,436.8 577.25,438.4 577.50,438.5 577.75,437.2 578.00,438.0 578.25,437.2 578.50,437.5 578.75,438.8 579.00,438.0 579.25,438.4 579.50,437.8 579.75,436.1 580.00,437.0 580.25,436.9 580.50,437.7 580.75,437.1 581.00,438.1 581.25,437.2 581.50,437.0 581.75,436.7 582.00,436.6 582.25,437.5 582.50,437.6 582.75,437.7 583.00,437.6 583.25,437.5 583.50,437.8 583.75,438.8 584.00,437.3 584.25,436.9 584.50,438.3 584.75,436.6 585.00,437.5 585.25,438.1 585.50,438.9 585.75,436.6 586.00,438.1 586.25,436.3 586.50,436.7 586.75,438.3 587.00,436.9 587.25,436.9 587.50,438.5 587.75,438.2 588.00,438.0 588.25,438.6 588.50,436.4 588.75,438.0 589.00,438.2 589.25,436.6 589.50,436.7 589.75,436.5 590.00,436.4 590.25,436.3 590.50,437.4 590.75,437.2 591.00,436.1 591.25,434.2 591.50,435.0 591.75,432.2 592.00,429.2 592.20,424.1 592.25,420.8 592.40,410.5 592.50,397.2 592.55,387.1 592.68,348.7 592.75,327.9 592.80,322.2 592.92,348.3 593.00,373.8 593.05,386.5 593.20,409.7 593.25,413.8 593.40,421.9 593.50,425.2 593.75,428.4 594.00,427.2 594.25,423.4 594.50,415.6 594.70,394.9 594.75,386.1 594.85,358.7 594.98,298.8 595.00,288.3 595.10,257.6 595.22,298.9 595.25,314.8 595.35,359.2 595.50,396.0 595.70,416.0 595.75,419.0 596.00,427.2 596.25,431.3 596.50,433.0 596.75,433.6 597.00,435.2 597.25,433.7 597.50,433.6 597.60,432.3 597.75,430.4 597.80,429.2 597.95,422.6 598.00,419.0 598.08,411.7 598.20,404.2 598.25,405.9 598.32,411.9 598.45,423.0 598.50,426.0 598.60,429.7 598.75,433.3 598.80,433.5 599.00,435.7 599.25,436.5 599.50,437.2 599.75,437.4 600.00,437.1 600.25,438.1 600.50,437.8 600.75,437.5 601.00,437.2 601.25,437.8 601.50,438.5 601.75,437.8 602.00,438.0 602.25,438.2 602.50,437.9 602.75,438.0 603.00,438.6 603.25,437.7 603.50,438.2 603.75,438.6 604.00,438.0 604.25,438.7 604.50,438.2 604.75,438.4 605.00,438.8 605.25,438.9 605.50,438.2 605.75,438.9 606.00,438.6 606.25,438.6 606.50,438.4 606.75,438.3 607.00,438.1 607.25,438.9 607.50,438.5 607.75,438.1 608.00,438.5 608.25,438.3 608.50,438.8 608.75,438.3 609.00,437.7 609.25,437.7 609.50,438.3 609.75,438.9 610.00,438.5 610.25,438.7 610.50,438.3 610.75,438.1 611.00,438.4 611.25,438.9 611.50,438.9 611.75,437.6 612.00,438.0 612.25,438.0 612.50,439.0 612.75,437.7 613.00,438.1 613.25,438.6 613.50,438.3 613.75,438.6 614.00,438.3 614.25,438.4 614.50,438.4 614.75,438.3 615.00,437.7 615.25,438.9 615.50,438.7 615.75,438.1 616.00,438.3 616.25,438.5 616.50,438.5 616.75,438.9 617.00,439.0 617.25,437.9 617.50,437.6 617.75,438.5 618.00,438.2 618.25,438.0 618.50,438.0 618.75,438.0 619.00,438.5 619.25,438.2 619.50,438.6 619.75,437.8 620.00,437.8 620.25,438.1 620.50,438.7 620.75,438.2 621.00,438.6 621.25,439.0 621.50,438.2 621.75,437.7 622.00,437.8 622.25,438.5 622.50,438.4 622.75,438.5 623.00,438.5 623.25,438.5 623.50,438.7 623.75,437.6 624.00,438.8 624.25,438.1 624.50,438.4 624.75,438.7 625.00,437.8 625.25,438.3 625.50,439.0 625.75,438.3 626.00,439.0 626.25,438.4 626.50,439.0 626.75,438.4 627.00,438.6 627.25,438.3 627.50,438.6 627.75,439.0 628.00,438.5 628.25,438.9 628.50,438.8 628.75,438.9 629.00,438.7 629.25,438.7 629.50,438.8 629.75,438.7 630.00,438.9 630.25,438.8 630.50,437.9 630.75,438.2 631.00,437.9 631.25,438.2 631.50,438.2 631.75,438.0 632.00,438.2 632.25,438.6 632.50,438.5 632.75,438.9 633.00,438.8 633.25,438.6 633.50,438.7 633.75,438.4 634.00,438.6 634.25,438.3 634.50,438.5 634.75,439.0 635.00,438.7 635.25,438.3 635.50,438.9 635.75,438.9 636.00,438.6 636.25,438.6 636.50,438.4 636.75,438.6 637.00,438.7 637.25,438.9 637.50,438.4 637.75,437.7 638.00,438.1 638.25,438.6 638.50,438.9 638.75,438.8 639.00,438.6 639.25,438.0 639.50,438.3 639.75,438.2 640.00,437.9 640.25,438.1 640.50,438.8 640.75,438.2 641.00,438.8 641.25,437.9 641.50,438.1 641.75,438.7 642.00,438.9 642.25,438.4 642.50,438.2 642.75,438.8 643.00,438.8 643.25,438.5 643.50,438.9 643.75,438.9 644.00,438.8 644.25,437.8 644.50,438.8 644.75,437.8 645.00,437.9 645.25,438.4 645.50,438.3 645.75,438.5 646.00,438.6 646.25,438.6 646.50,438.6 646.75,438.2 647.00,438.3 647.25,438.5 647.50,438.6 647.75,438.5 648.00,437.7 648.25,438.5 648.50,438.2 648.75,437.5 649.00,438.4 649.25,438.3 649.50,438.5 649.75,438.4 650.00,438.4 650.25,438.3 650.50,438.1 650.75,438.2 651.00,437.9 651.25,438.0 651.50,437.4 651.75,437.7 652.00,437.0 652.25,437.6 652.50,437.2 652.75,437.2 653.00,436.4 653.25,437.0 653.50,436.6 653.75,435.4 654.00,435.1 654.25,434.2 654.50,433.2 654.75,431.4 655.00,427.5 655.25,422.7 655.50,412.5 655.70,395.0 655.75,387.9 655.90,353.6 656.00,310.6 656.05,279.2 656.18,157.6 656.25,92.0 656.30,74.0 656.42,156.7 656.50,237.4 656.55,277.3 656.70,350.0 656.75,363.5 656.90,386.8 657.00,392.8 657.05,393.4 657.18,388.1 657.25,384.2 657.30,384.0 657.42,395.9 657.50,406.1 657.55,411.2 657.70,421.0 657.75,423.0 657.90,427.5 658.00,429.1 658.25,431.6 658.50,433.9 658.75,434.5 659.00,435.5 659.25,435.9 659.50,436.5 659.75,436.9 660.00,437.3 660.25,437.5 660.50,437.4 660.75,437.7 661.00,437.9 661.25,437.0 661.50,437.9 661.75,437.9 662.00,437.6 662.25,437.9 662.50,438.0 662.75,438.2 663.00,438.3 663.25,438.3 663.50,437.4 663.75,437.9 664.00,438.0 664.25,438.0 664.50,438.0 664.75,438.1 665.00,438.3 665.25,438.4 665.50,437.8 665.75,438.0 666.00,437.7 666.25,438.1 666.50,437.7 666.75,438.0 667.00,438.4 667.25,438.1 667.50,438.4 667.75,438.0 668.00,438.3 668.25,437.5 668.50,438.0 668.75,437.0 669.00,437.2 669.25,437.1 669.50,436.6 669.75,435.8 670.00,434.7 670.25,432.2 670.30,431.2 670.50,425.4 670.65,415.1 670.75,402.5 670.78,398.0 670.90,386.2 671.00,394.7 671.02,397.6 671.15,414.4 671.25,421.9 671.30,424.2 671.50,429.5 671.75,430.4 672.00,428.3 672.25,422.9 672.30,421.3 672.50,406.3 672.65,378.8 672.75,345.7 672.78,333.8 672.90,303.0 673.00,326.2 673.02,333.9 673.15,379.1 673.25,399.8 673.30,406.6 673.50,421.9 673.75,428.9 674.00,432.3 674.25,434.4 674.50,435.1 674.75,435.5 675.00,436.2 675.25,436.0 675.50,436.2 675.75,436.5 676.00,436.1 676.25,434.5 676.50,431.6 676.70,425.8 676.75,423.3 676.85,415.2 676.98,397.7 677.00,394.6 677.10,385.6 677.22,397.7 677.25,402.4 677.35,415.3 677.50,426.0 677.70,432.2 677.75,433.0 678.00,435.4 678.25,436.0 678.50,437.2 678.75,437.4 679.00,437.1 679.25,437.0 679.50,437.8 679.75,437.8 680.00,437.6 680.25,437.0 680.50,436.1 680.75,435.7 681.00,434.0 681.10,432.9 681.25,428.9 681.30,427.5 681.45,417.5 681.50,412.4 681.58,401.7 681.70,390.8 681.75,393.1 681.82,401.8 681.95,417.6 682.00,421.8 682.10,427.5 682.25,431.6 682.30,433.1 682.50,434.6 682.75,436.3 683.00,437.1 683.25,437.5 683.50,437.9 683.75,437.8 684.00,438.0 684.25,438.4 684.50,438.0 684.75,438.6 685.00,437.7 685.25,438.6 685.50,438.7 685.75,438.7 686.00,438.6 686.25,438.6 686.50,438.6 686.75,438.8 687.00,438.0 687.25,438.3 687.50,438.4 687.75,438.6 688.00,438.8 688.25,438.6 688.50,438.9 688.75,438.4 689.00,438.1 689.25,438.1 689.50,438.9 689.75,438.8 690.00,438.8 690.25,438.1 690.50,438.5 690.75,438.9 691.00,438.7 691.25,438.8 691.50,438.4 691.75,438.2 692.00,438.1 692.25,438.3 692.50,438.5 692.75,438.1 693.00,438.4 693.25,438.6 693.50,438.9 693.75,438.8 694.00,438.9 694.25,438.9 694.50,438.2 694.75,438.6 695.00,438.9 695.25,438.3 695.50,438.2 695.75,438.9 696.00,438.9 696.25,438.6 696.50,438.5 696.75,438.4 697.00,438.7 697.25,438.5 697.50,438.7 697.75,438.2 698.00,438.6 698.25,438.9 698.50,438.0 698.75,438.7 699.00,438.9 699.25,438.9 699.50,438.6 699.75,438.3 700.00,438.0 700.25,438.4 700.50,439.0 700.75,438.7 701.00,438.9 701.25,438.9 701.50,438.6 701.75,438.8 702.00,438.8 702.25,438.3 702.50,438.5 702.75,438.5 703.00,438.9 703.25,438.7 703.50,438.4 703.75,438.5 704.00,438.7 704.25,439.0 704.50,438.3 704.75,438.1 705.00,439.0 705.25,438.0 705.50,438.1 705.75,438.4 706.00,438.8 706.25,438.5 706.50,438.3 706.75,438.9 707.00,438.3 707.25,438.3 707.50,438.6 707.75,438.2 708.00,438.5 708.25,438.6 708.50,438.9 708.75,438.7 709.00,438.7 709.25,438.4 709.50,438.6 709.75,439.0 710.00,438.5 710.25,438.7 710.50,438.7 710.75,438.3 711.00,438.7 711.25,439.0 711.50,438.2 711.75,439.0 712.00,438.9 712.25,438.9 712.50,438.6 712.75,438.4 713.00,438.3 713.25,438.9 713.50,438.5 713.75,438.9 714.00,438.2 714.25,438.2 714.50,438.3 714.75,438.7 715.00,438.5 715.25,438.9 715.50,438.9 715.75,438.3 716.00,438.6 716.25,438.6 716.50,438.5 716.75,438.6 717.00,438.8 717.25,438.0 717.50,438.5 717.75,438.5 718.00,438.7 718.25,438.9 718.50,438.8 718.75,438.9 719.00,438.6 719.25,438.8 719.50,438.8 719.75,438.6 720.00,438.3 720.25,438.7 720.50,438.9 720.75,438.6 721.00,438.7 721.25,438.8 721.50,438.6 721.75,438.3 722.00,438.7 722.25,438.0 722.50,438.8 722.75,438.6 723.00,438.8 723.25,438.4 723.50,438.2 723.75,439.0 724.00,438.9 724.25,438.1 724.50,439.0 724.75,438.5 725.00,438.4 725.25,438.6 725.50,438.0 725.75,438.5 726.00,438.9 726.25,438.5 726.50,438.4 726.75,438.6 727.00,438.8 727.25,438.5 727.50,438.6 727.75,438.7 728.00,438.7 728.25,438.2 728.50,438.7 728.75,439.0 729.00,438.3 729.25,439.0 729.50,438.2 729.75,438.3 730.00,438.9 730.25,438.8 730.50,438.9 730.75,438.6 731.00,438.7 731.25,438.2 731.50,438.8 731.75,438.4 732.00,438.5 732.25,438.6 732.50,438.7 732.75,438.1 733.00,438.5 733.25,438.9 733.50,438.8 733.75,438.3 734.00,438.5 734.25,438.7 734.50,438.3 734.75,438.3 735.00,438.4 735.25,438.4 735.50,438.5 735.75,438.3 736.00,438.5 736.25,438.4 736.50,438.4 736.75,438.1 737.00,438.2 737.25,438.1 737.50,437.7 737.75,437.1 738.00,435.8 738.20,432.7 738.25,431.3 738.35,427.2 738.48,418.4 738.50,416.8 738.60,412.3 738.72,418.3 738.75,420.7 738.85,427.1 739.00,432.5 739.20,435.7 739.25,436.0 739.50,436.9 739.75,438.0 740.00,437.4 740.25,437.9 740.50,437.8 740.75,438.3 741.00,438.3 741.25,438.4 741.50,438.2 741.75,438.7 742.00,438.8 742.25,438.6 742.50,438.3 742.75,438.6 743.00,438.2 743.25,438.2 743.50,438.7 743.75,438.7 744.00,438.6 744.25,438.9 744.50,438.8 744.75,438.9 745.00,438.3 745.25,438.4 745.50,438.6 745.75,438.5 746.00,438.6 746.25,438.7 746.50,438.2 746.75,438.3 747.00,438.6 747.25,438.3 747.50,438.5 747.75,438.6 748.00,438.6 748.25,438.6 748.50,438.6 748.75,438.2 749.00,437.9 749.20,437.9 749.25,437.8 749.40,437.3 749.50,436.5 749.55,436.0 749.68,434.0 749.75,433.0 749.80,432.7 749.92,434.1 750.00,435.5 750.05,436.2 750.20,437.4 750.25,437.7 750.40,438.1 750.50,438.3 750.75,438.3 751.00,438.2 751.25,438.0 751.50,438.7 751.75,438.9 752.00,438.2 752.25,438.5 752.50,438.9 752.75,438.7 753.00,438.8 753.25,438.5 753.50,438.9 753.75,438.8 754.00,438.0 754.25,438.0 754.50,438.9 754.75,438.4 755.00,438.3 755.25,438.3 755.50,438.9 755.75,438.6 756.00,438.7 756.25,438.6 756.50,438.4 756.75,438.5 757.00,438.1 757.25,438.4 757.50,438.9 757.75,438.8 758.00,438.6 758.25,438.7 758.50,438.7 758.75,438.8 759.00,438.5 759.25,438.6 759.50,438.8 759.75,438.6 760.00,438.3 760.25,437.8 760.50,438.6 760.75,438.6 761.00,438.1 761.25,438.6 761.50,437.8 761.75,438.2 762.00,438.2 762.25,437.2 762.50,437.8 762.75,437.5 763.00,436.9 763.25,435.4 763.50,433.8 763.75,430.2 763.80,428.8 764.00,419.5 764.15,403.0 764.25,382.8 764.28,375.6 764.40,356.8 764.50,370.8 764.52,375.6 764.65,403.0 764.75,415.4 764.80,419.6 765.00,429.2 765.25,433.6 765.50,435.3 765.75,436.6 766.00,437.4 766.25,437.7 766.50,438.0 766.75,437.9 767.00,437.9 767.25,438.0 767.50,438.0 767.75,437.9 768.00,438.6 768.25,438.2 768.50,438.5 768.75,438.0 769.00,438.1 769.25,438.8 769.50,438.8 769.75,438.7 770.00,438.7 770.25,438.5 770.50,438.6 770.75,438.4 771.00,438.6 771.25,438.4 771.50,438.4 771.75,438.4 772.00,438.0 772.25,438.9 772.50,438.4 772.75,438.1 773.00,438.7 773.25,438.9 773.50,438.4 773.75,438.9 774.00,438.1 774.25,438.4 774.50,438.4 774.75,438.7 775.00,438.1 775.25,438.9 775.50,438.7 775.75,438.6 776.00,438.4 776.25,438.1 776.50,438.5 776.75,438.5 777.00,438.4 777.25,438.7 777.50,438.6 777.75,438.9 778.00,438.8 778.25,438.2 778.50,438.6 778.75,438.6 779.00,438.9 779.25,438.8 779.50,438.5 779.75,438.5 780.00,438.4 780.25,438.5 780.50,438.1 780.75,438.9 781.00,438.6 781.25,438.8 781.50,438.7 781.75,438.1 782.00,438.4 782.25,438.6 782.50,438.6 782.75,438.8 783.00,438.6 783.25,438.4 783.50,438.6 783.75,438.5 784.00,438.7 784.25,438.2 784.50,438.4 784.75,438.3 785.00,438.5 785.25,438.4 785.50,437.7 785.75,438.3 786.00,438.3 786.25,437.8 786.50,437.4 786.75,437.4 787.00,436.3 787.25,434.3 787.30,433.7 787.50,428.8 787.65,420.1 787.75,409.6 787.78,406.0 787.90,396.2 788.00,403.5 788.02,405.9 788.15,420.3 788.25,426.6 788.30,428.7 788.50,433.9 788.75,435.8 789.00,437.0 789.25,437.2 789.50,438.2 789.75,437.5 790.00,437.9 790.25,437.7 790.50,438.3 790.75,437.9 791.00,438.3 791.25,438.1 791.50,438.1 791.75,438.7 792.00,438.5 792.25,438.4 792.50,438.2 792.75,438.8 793.00,438.9 793.25,438.6 793.50,438.3 793.75,438.2 794.00,438.6 794.25,438.8 794.50,438.4 794.75,438.7 795.00,438.8 795.25,438.8 795.50,438.1 795.75,438.9 796.00,438.1 796.25,438.8 796.50,438.9 796.75,438.4 797.00,438.8 797.25,438.5 797.50,438.7 797.75,438.1 798.00,438.5 798.25,438.6 798.50,438.6 798.75,438.8 799.00,438.9 799.25,438.9 799.50,438.5 799.75,438.8 800.00,438.8 800.25,438.2 800.50,438.8 800.75,438.5 801.00,438.5 801.25,438.5 801.50,438.4 801.75,438.9 802.00,438.3 802.25,438.5 802.50,438.4 802.75,438.6 803.00,438.7 803.25,438.8 803.50,438.3 803.75,438.2 804.00,438.7 804.25,438.5 804.50,438.8 804.75,438.5 805.00,438.7 805.25,438.8 805.50,438.5 805.75,438.8 806.00,438.8 806.25,438.5 806.50,438.7 806.75,438.9 807.00,438.9 807.25,438.4 807.50,438.6 807.75,438.1 808.00,438.7 808.25,438.5 808.50,438.5 808.75,438.8 809.00,438.1 809.25,438.6 809.50,438.4 809.75,438.6 810.00,437.8 810.25,437.6 810.50,437.9 810.75,436.7 811.00,436.1 811.20,434.6 811.25,433.9 811.40,430.4 811.50,426.1 811.55,422.9 811.68,410.8 811.75,404.3 811.80,402.5 811.92,410.9 812.00,419.0 812.05,422.9 812.20,430.3 812.25,431.8 812.40,434.4 812.50,435.5 812.75,436.6 813.00,437.4 813.25,437.8 813.50,438.1 813.75,438.5 814.00,438.2 814.25,438.3 814.50,438.1 814.75,438.5 815.00,438.8 815.25,438.3 815.50,438.6 815.75,438.6 816.00,438.4 816.25,438.3 816.50,438.8 816.75,438.7 817.00,438.5 817.25,438.6 817.50,438.4 817.75,438.5 818.00,438.3 818.25,438.2 818.50,438.5 818.75,438.3 819.00,438.3 819.25,438.6 819.50,438.6 819.75,438.7 820.00,438.7 820.25,438.3 820.50,438.5 820.75,438.7 821.00,438.8 821.25,438.9 821.50,438.3 821.75,438.3 822.00,438.1 822.25,438.9 822.50,438.1 822.75,438.4 823.00,438.4 823.25,438.2 823.50,438.4 823.75,438.7 824.00,438.9 824.25,438.9 824.50,438.6 824.75,438.3 825.00,438.5 825.25,438.2 825.50,439.0 825.75,438.2 826.00,438.9 826.25,438.7 826.50,438.9 826.75,438.9 827.00,438.3 827.25,438.2 827.50,438.2 827.75,438.4 828.00,438.6 828.25,438.4 828.50,438.4 828.75,438.5 829.00,438.2 829.25,438.5 829.40,438.3 829.50,438.3 829.60,438.1 829.75,437.6 829.88,436.7 830.00,436.0 830.12,436.7 830.25,437.6 830.40,438.1 830.50,438.4 830.60,438.4 830.75,438.1 831.00,438.2 831.25,438.3 831.50,438.9 831.75,438.9 832.00,438.1 832.25,438.8 832.50,438.7 832.75,438.6 833.00,438.4 833.25,438.5 833.50,438.5 833.75,438.9 834.00,438.6 834.25,438.8 834.50,438.7 834.75,438.5 835.00,438.2 835.25,439.0 835.50,438.7 835.75,438.4 836.00,438.3 836.25,438.8 836.50,438.8 836.75,438.9 837.00,438.5 837.25,438.5 837.50,438.3 837.75,438.6 838.00,438.7 838.25,438.8 838.50,438.5 838.75,438.4 839.00,438.3 839.25,438.2 839.50,438.4 839.75,438.3 840.00,438.6 840.25,438.4 840.50,439.0 840.75,438.6 841.00,438.4 841.25,438.4 841.50,438.3 841.75,438.9 842.00,438.3 842.25,438.3 842.50,438.2 842.75,438.2 843.00,439.0 843.25,438.9 843.50,438.5 843.75,438.9 844.00,438.1 844.25,438.9 844.50,438.7 844.75,438.8 845.00,438.1 845.25,438.6 845.50,438.9 845.75,438.9 846.00,438.9 846.25,438.8 846.50,438.7 846.75,438.9 847.00,438.6 847.25,438.7 847.50,438.9 847.75,438.2 848.00,438.2 848.25,438.1 848.50,438.6 848.75,438.9 849.00,438.7 849.25,438.8 849.50,438.6 849.75,438.5 850.00,439.0 850.25,438.2 850.50,438.7 850.75,438.5 851.00,438.1 851.25,438.5 851.50,438.6 851.75,438.7 852.00,438.8 852.25,438.7 852.50,438.9 852.75,438.1 853.00,438.5 853.25,438.7 853.50,438.6 853.75,438.4 854.00,438.2 854.25,438.4 854.50,438.9 854.75,438.3 855.00,438.3 855.25,438.4 855.50,438.5 855.75,438.7 856.00,438.9 856.25,438.9 856.50,438.8 856.75,438.9 857.00,438.9 857.25,438.8 857.50,438.5 857.75,438.2 858.00,438.6 858.25,438.4 858.50,438.3 858.75,438.3 859.00,438.4 859.25,438.3 859.50,439.0 859.75,438.1 860.00,438.6 860.25,438.5 860.50,438.4 860.75,438.5 861.00,438.4 861.25,439.0 861.50,438.9 861.75,438.1 862.00,438.5 862.25,438.5 862.50,438.6 862.75,438.9 863.00,438.6 863.25,438.7 863.50,438.3 863.75,438.3 864.00,438.2 864.25,438.3 864.30,438.2 864.50,438.0 864.65,437.2 864.75,436.3 864.78,436.0 864.90,435.2 865.00,435.8 865.02,436.0 865.15,437.3 865.25,437.9 865.30,438.1 865.50,438.3 865.75,438.5 866.00,438.7 866.25,438.4 866.50,438.5 866.75,438.7 867.00,438.5 867.25,438.8 867.50,438.6 867.75,438.2 868.00,438.5 868.25,438.8 868.50,438.8 868.75,438.2 869.00,438.3 869.25,438.3 869.50,438.3 869.75,438.2 870.00,438.9 870.25,438.5 870.50,438.7 870.75,438.8 871.00,438.8 871.25,438.6 871.50,438.3 871.75,439.0 872.00,438.5 872.25,438.7 872.50,438.6 872.75,438.2 873.00,438.4 873.25,438.4 873.50,438.9 873.75,438.8 874.00,438.9 874.25,438.5 874.50,438.7 874.75,438.9 875.00,438.9 875.25,438.9 875.50,438.6 875.75,438.7 876.00,438.8 876.25,438.8 876.50,438.9 876.75,438.3 877.00,438.6 877.25,438.6 877.50,438.7 877.75,438.9 878.00,438.4 878.25,438.9 878.50,438.8 878.60,438.2 878.75,438.4 878.80,438.5 878.95,438.1 879.00,437.9 879.08,437.6 879.20,437.2 879.25,437.3 879.32,437.5 879.45,438.0 879.50,438.2 879.60,438.3 879.75,438.5 879.80,438.6 880.00,438.5 880.25,438.3 880.50,438.7 880.75,438.7 881.00,438.7 881.25,438.5 881.40,438.3 881.50,438.4 881.60,438.4 881.75,437.9 881.88,437.4 882.00,437.0 882.12,437.4 882.25,438.0 882.40,438.4 882.50,438.6 882.60,438.7 882.75,438.7 883.00,438.2 883.25,438.4 883.50,438.5 883.75,438.8 884.00,439.0 884.25,438.9 884.50,438.8 884.75,438.8 885.00,438.9 885.25,438.9 885.50,438.8 885.75,439.0 886.00,438.8 886.25,438.9 886.50,438.5 886.75,438.3 887.00,439.0 887.25,438.9 887.50,438.3 887.75,438.6 888.00,438.8 888.25,438.4 888.50,438.8 888.75,438.8 889.00,438.7 889.25,438.6 889.50,438.1 889.75,438.7 890.00,438.8 890.25,438.9 890.50,439.0 890.75,438.7 891.00,438.4 891.25,438.1 891.50,438.5 891.75,438.4 892.00,438.5 892.25,438.5 892.50,438.7 892.75,438.8 893.00,438.8 893.25,438.1 893.50,438.4 893.75,438.9 894.00,438.3 894.25,438.8 894.50,438.2 894.75,438.1 895.00,438.4 895.25,438.4 895.50,438.5 895.75,438.7 896.00,438.2 896.25,438.5 896.50,438.3 896.70,438.2 896.75,438.2 896.85,437.7 896.98,436.9 897.00,436.8 897.10,436.4 897.22,436.9 897.25,437.1 897.35,437.6 897.50,438.2 897.70,438.5 897.75,438.6 898.00,438.8 898.25,438.6 898.50,438.6 898.75,438.7 899.00,438.7 899.25,438.9 899.50,438.7 899.75,438.8 900.00,438.5 900.25,438.7 900.50,438.9 900.75,438.9 901.00,438.5 901.25,438.9 901.50,438.4 901.75,438.3 902.00,438.1 902.25,438.8 902.50,438.8 902.75,438.8 903.00,438.4 903.25,438.5 903.50,438.2 903.75,438.3 904.00,438.5 904.25,437.5 904.50,437.2 904.70,436.7 904.75,436.5 904.90,435.0 905.00,433.2 905.05,431.9 905.18,426.8 905.25,424.0 905.30,423.2 905.42,426.7 905.50,430.1 905.55,431.7 905.70,434.7 905.75,435.2 905.90,436.3 906.00,436.4 906.25,436.9 906.40,436.5 906.50,436.1 906.60,435.2 906.75,432.5 906.88,428.0 907.00,425.0 907.12,428.1 907.25,432.7 907.40,435.6 907.50,436.6 907.60,436.8 907.75,437.4 908.00,437.9 908.25,437.8 908.50,438.5 908.75,438.4 909.00,438.7 909.25,438.3 909.50,438.8 909.75,438.7 910.00,438.8 910.25,438.9 910.50,438.7 910.75,438.7 911.00,438.8 911.25,438.8 911.50,438.6 911.75,438.1 912.00,438.1 912.25,438.5 912.50,438.9 912.75,438.7 913.00,438.5 913.25,438.9 913.50,438.1 913.75,438.5 913.90,438.5 914.00,438.4 914.10,438.2 914.25,437.6 914.38,436.7 914.50,436.0 914.62,436.6 914.75,437.5 914.90,438.2 915.00,438.4 915.10,438.6 915.25,438.7 915.50,438.6 915.75,438.4 916.00,438.5 916.25,438.4 916.50,438.7 916.75,438.7 917.00,438.2 917.25,438.2 917.50,438.8 917.75,438.5 918.00,438.3 918.25,438.3 918.50,438.4 918.75,438.6 919.00,438.6 919.25,438.4 919.50,438.8 919.75,438.6 920.00,438.6 920.25,439.0 920.50,438.8 920.75,438.9 921.00,438.9 921.25,438.5 921.50,439.0 921.75,438.7 922.00,438.8 922.25,438.9 922.50,438.5 922.75,438.5 923.00,438.4 923.25,438.4 923.50,438.6 923.75,438.8 924.00,438.4 924.25,438.5 924.50,438.7 924.75,438.8 925.00,438.8 925.25,438.9 925.50,438.7 925.75,438.5 926.00,439.0 926.25,438.2 926.50,439.0 926.75,438.9 927.00,438.9 927.25,439.0 927.50,438.2 927.75,438.4 928.00,438.9 928.25,438.9 928.50,439.0 928.75,438.9 929.00,438.7 929.25,438.9 929.50,438.7 929.75,438.9 930.00,438.6 930.25,438.7 930.50,438.9 930.75,438.9 931.00,438.6 931.25,438.7 931.50,438.5 931.75,438.9 932.00,438.2 932.25,438.5 932.50,438.9 932.75,438.2 933.00,438.3 933.25,438.6 933.50,438.6 933.75,438.7 934.00,438.8 934.25,438.9 934.50,438.8 934.75,438.4 935.00,438.6 935.25,438.7 935.50,438.9 935.75,438.6 936.00,438.9 936.25,438.7 936.50,438.3 936.75,438.8 937.00,438.6 937.25,438.9 937.50,438.8 937.75,438.9 938.00,439.0 938.25,438.9 938.50,439.0 938.75,438.8 939.00,438.3 939.25,439.0 939.50,438.9 939.75,438.9 940.00,438.7 940.25,438.2 940.50,438.4 940.75,438.8 941.00,438.8 941.25,439.0 941.50,438.7 941.75,438.6 942.00,438.9 942.25,438.7 942.50,438.5 942.75,438.7 943.00,438.6 943.25,438.7 943.50,438.9 943.75,439.0 944.00,438.6 944.25,438.4 944.50,438.6 944.75,438.2 945.00,438.4 945.25,438.3 945.50,438.5 945.75,438.4 946.00,438.8 946.25,438.4 946.50,438.7 946.75,438.7 947.00,438.9 947.25,438.8 947.30,438.8 947.50,438.6 947.65,438.3 947.75,438.0 947.78,438.0 947.90,437.7 948.00,437.9 948.02,437.9 948.15,438.3 948.25,438.5 948.30,438.6 948.50,438.7 948.75,438.6 949.00,438.7 949.25,438.8 949.50,438.6 949.75,438.8 950.00,439.0 950.25,438.7 950.50,438.5 950.75,438.8 951.00,438.7 951.25,438.9 951.50,438.8 951.75,438.8 952.00,438.7 952.25,438.9 952.50,438.3 952.75,438.8 953.00,438.3 953.25,438.9 953.50,438.9 953.75,439.0 954.00,438.8 954.25,438.5 954.50,438.2 954.75,438.9 955.00,439.0 955.25,438.7 955.50,438.7 955.75,438.6 956.00,438.4 956.25,438.2 956.50,438.6 956.75,438.7 957.00,438.5 957.25,438.5 957.50,438.7 957.75,438.7 958.00,438.7 958.25,438.7 958.50,438.9"/>
<text x="105" y="74.4" font-size="41.5" text-anchor="end" style="font-family:'Liberation Serif',serif" >0.2</text>
<text x="105" y="262.1" font-size="41.5" text-anchor="end" style="font-family:'Liberation Serif',serif" >0.1</text>
<text x="105" y="450.7" font-size="41.5" text-anchor="end" style="font-family:'Liberation Serif',serif" >0</text>
<text x="109.5" y="475.5" font-size="41.5" text-anchor="middle" style="font-family:'Liberation Serif',serif" >0</text>
<text x="534.6" y="475.5" font-size="41.5" text-anchor="middle" style="font-family:'Liberation Serif',serif" >1000</text>
<text x="958.6" y="475.6" font-size="41.5" text-anchor="middle" style="font-family:'Liberation Serif',serif" >2000</text>
<text x="376.8" y="517.8" font-size="41.4" text-anchor="start" style="font-family:'Liberation Serif',serif" >Frequency (kHz)</text>
<text transform="translate(29.5,425) rotate(-90)" font-size="41.3" style="font-family:'Liberation Serif',serif">Amplitude (arb. unit)</text>
<text x="-2" y="24.85" font-size="33" text-anchor="start" style="font-family:'Liberation Sans',sans-serif;stroke-width:0" >(a)</text>
<rect x="164.6" y="82.6" width="254.79999999999998" height="116.4" fill="#fff"/>
<rect x="164.6" y="82.6" width="254.79999999999998" height="116.4" fill="none" stroke="#000" stroke-width="2.2"/>
<line x1="164.6" y1="199.0" x2="164.6" y2="195.0" stroke="#000" stroke-width="2"/>
<line x1="164.6" y1="82.6" x2="164.6" y2="86.6" stroke="#000" stroke-width="2"/>
<line x1="192.9111111111111" y1="199.0" x2="192.9111111111111" y2="195.0" stroke="#000" stroke-width="2"/>
<line x1="192.9111111111111" y1="82.6" x2="192.9111111111111" y2="86.6" stroke="#000" stroke-width="2"/>
<line x1="221.22222222222223" y1="199.0" x2="221.22222222222223" y2="192.0" stroke="#000" stroke-width="2"/>
<line x1="221.22222222222223" y1="82.6" x2="221.22222222222223" y2="89.6" stroke="#000" stroke-width="2"/>
<line x1="249.53333333333333" y1="199.0" x2="249.53333333333333" y2="195.0" stroke="#000" stroke-width="2"/>
<line x1="249.53333333333333" y1="82.6" x2="249.53333333333333" y2="86.6" stroke="#000" stroke-width="2"/>
<line x1="277.84444444444443" y1="199.0" x2="277.84444444444443" y2="195.0" stroke="#000" stroke-width="2"/>
<line x1="277.84444444444443" y1="82.6" x2="277.84444444444443" y2="86.6" stroke="#000" stroke-width="2"/>
<line x1="306.15555555555557" y1="199.0" x2="306.15555555555557" y2="195.0" stroke="#000" stroke-width="2"/>
<line x1="306.15555555555557" y1="82.6" x2="306.15555555555557" y2="86.6" stroke="#000" stroke-width="2"/>
<line x1="334.4666666666667" y1="199.0" x2="334.4666666666667" y2="195.0" stroke="#000" stroke-width="2"/>
<line x1="334.4666666666667" y1="82.6" x2="334.4666666666667" y2="86.6" stroke="#000" stroke-width="2"/>
<line x1="362.77777777777777" y1="199.0" x2="362.77777777777777" y2="192.0" stroke="#000" stroke-width="2"/>
<line x1="362.77777777777777" y1="82.6" x2="362.77777777777777" y2="89.6" stroke="#000" stroke-width="2"/>
<line x1="391.08888888888885" y1="199.0" x2="391.08888888888885" y2="195.0" stroke="#000" stroke-width="2"/>
<line x1="391.08888888888885" y1="82.6" x2="391.08888888888885" y2="86.6" stroke="#000" stroke-width="2"/>
<line x1="419.4" y1="199.0" x2="419.4" y2="195.0" stroke="#000" stroke-width="2"/>
<line x1="419.4" y1="82.6" x2="419.4" y2="86.6" stroke="#000" stroke-width="2"/>
<line x1="164.6" y1="193.5" x2="171.6" y2="193.5" stroke="#000" stroke-width="2"/>
<line x1="419.4" y1="193.5" x2="412.4" y2="193.5" stroke="#000" stroke-width="2"/>
<line x1="164.6" y1="152.8" x2="171.6" y2="152.8" stroke="#000" stroke-width="2"/>
<line x1="419.4" y1="152.8" x2="412.4" y2="152.8" stroke="#000" stroke-width="2"/>
<line x1="164.6" y1="112.1" x2="171.6" y2="112.1" stroke="#000" stroke-width="2"/>
<line x1="419.4" y1="112.1" x2="412.4" y2="112.1" stroke="#000" stroke-width="2"/>
<polyline fill="none" stroke="#ff00ff" stroke-width="2" stroke-linejoin="round" points="164.60,192.72 165.45,192.59 166.30,192.71 167.15,192.72 168.00,192.81 168.85,192.69 169.70,192.47 170.55,192.58 171.39,192.47 172.24,192.59 173.09,192.56 173.94,192.59 174.79,192.89 175.64,192.47 176.49,192.52 177.34,192.51 178.19,192.86 179.04,192.86 179.89,192.72 180.74,192.64 181.59,192.51 182.44,192.56 183.29,192.46 184.13,192.64 184.98,192.48 185.83,192.45 186.68,192.62 187.53,192.22 188.38,192.40 189.23,192.29 190.08,192.58 190.93,192.59 191.78,192.51 192.63,192.46 193.48,192.33 194.33,192.38 195.18,192.49 196.03,192.56 196.87,192.48 197.72,192.18 198.57,192.50 199.42,192.32 200.27,192.28 201.12,192.58 201.97,192.31 202.82,192.09 203.67,192.62 204.52,192.33 205.37,192.28 206.22,192.38 207.07,192.16 207.92,192.23 208.77,192.44 209.61,192.06 210.46,192.07 211.31,192.00 212.16,191.91 213.01,192.06 213.86,192.09 214.71,192.30 215.56,191.97 216.41,192.15 217.26,192.10 218.11,192.21 218.96,192.14 219.81,192.05 220.66,191.73 221.51,192.25 222.35,192.13 223.20,191.83 224.05,191.61 224.90,191.72 225.75,192.10 226.60,192.17 227.45,191.68 228.30,191.83 229.15,191.86 230.00,191.49 230.85,191.43 231.70,191.55 232.55,191.51 233.40,191.44 234.25,191.21 235.09,191.34 235.94,191.31 236.79,191.27 237.64,191.57 238.49,191.07 239.34,191.07 240.19,191.10 241.04,191.46 241.89,191.19 242.74,190.90 243.59,191.28 244.44,190.96 245.29,190.71 246.14,191.03 246.99,190.50 247.83,190.61 248.68,190.66 249.53,190.51 250.38,190.39 251.23,190.41 252.08,190.17 252.93,190.38 253.78,190.26 254.63,189.94 255.48,190.02 256.33,190.08 257.18,189.69 258.03,189.51 258.88,189.72 259.73,189.76 260.57,189.45 261.42,189.34 262.27,189.24 263.12,188.84 263.97,189.10 264.82,188.59 265.67,188.86 266.52,188.63 267.37,188.23 268.22,187.98 269.07,187.85 269.92,187.74 270.77,187.56 271.62,187.34 272.47,187.04 273.31,186.90 274.16,186.55 275.01,186.20 275.86,185.96 276.71,185.46 277.00,185.36 277.28,184.98 277.56,185.11 277.84,185.09 278.13,184.92 278.41,184.70 278.69,184.37 278.98,184.40 279.26,184.09 279.54,183.65 279.83,184.16 280.11,183.71 280.39,183.25 280.68,182.98 280.96,182.75 281.24,182.59 281.52,182.12 281.81,181.87 282.09,181.67 282.37,180.84 282.66,180.80 282.94,180.55 283.22,180.04 283.51,179.60 283.79,179.07 284.07,178.96 284.36,178.02 284.64,177.14 284.92,176.81 285.21,175.88 285.49,174.90 285.77,174.02 286.05,172.94 286.34,172.39 286.62,170.98 286.90,169.68 287.19,168.08 287.47,166.41 287.75,165.25 288.04,162.67 288.32,160.89 288.60,158.11 288.89,155.76 289.17,152.48 289.45,148.99 289.74,145.54 290.02,141.48 290.30,137.03 290.58,132.50 290.87,127.67 291.15,122.43 291.43,117.61 291.72,113.24 292.00,108.74 292.28,106.23 292.57,103.89 292.85,103.39 293.13,104.02 293.42,105.93 293.70,109.15 293.98,113.09 294.26,118.03 294.55,122.93 294.83,127.55 295.11,132.68 295.40,137.33 295.68,141.75 295.96,145.31 296.25,149.06 296.53,152.27 296.81,155.67 297.10,158.22 297.38,160.84 297.66,162.72 297.95,164.55 298.23,166.73 298.51,167.93 298.79,169.46 299.08,170.96 299.36,172.43 299.64,172.96 299.93,174.18 300.21,175.15 300.49,175.81 300.78,176.55 301.06,177.06 301.34,178.10 301.63,178.34 301.91,178.82 302.19,179.32 302.48,180.05 302.76,180.58 303.04,180.69 303.32,181.22 303.61,181.57 303.89,181.68 304.17,182.27 304.46,182.89 304.74,182.85 305.02,183.35 305.31,183.16 305.59,183.47 305.87,183.84 306.16,183.96 306.44,184.02 306.72,184.33 307.00,184.31 307.29,184.70 307.57,184.69 307.85,184.77 308.14,184.91 308.42,185.42 308.70,185.31 308.99,185.89 309.27,185.89 309.55,186.16 309.84,185.78 310.12,186.27 310.97,186.40 311.82,186.72 312.67,186.97 313.52,187.31 314.37,187.40 315.22,187.37 316.06,187.85 316.91,187.96 317.76,188.06 318.61,188.42 319.46,188.75 320.31,188.79 321.16,188.67 322.01,189.25 322.86,189.21 323.71,189.07 324.56,189.22 325.41,189.46 326.26,189.44 327.11,189.65 327.96,189.97 328.80,190.13 329.65,190.07 330.50,189.90 331.35,190.23 332.20,190.37 333.05,190.43 333.90,190.63 334.75,190.47 335.60,190.71 336.45,190.53 337.30,191.04 338.15,190.67 339.00,190.88 339.85,191.16 340.70,190.78 341.54,191.00 342.39,191.37 343.24,191.20 344.09,191.06 344.94,191.23 345.79,191.07 346.64,191.12 347.49,191.18 348.34,191.28 349.19,191.15 350.04,191.30 350.89,191.38 351.74,191.83 352.59,191.38 353.44,191.34 354.28,191.64 355.13,191.70 355.98,191.34 356.83,191.97 357.68,191.64 358.53,191.35 359.38,191.92 360.23,191.69 361.08,191.52 361.93,191.87 362.78,191.79 363.63,191.75 364.48,192.07 365.33,191.96 366.18,191.92 367.02,191.86 367.87,192.02 368.72,192.07 369.57,192.22 370.42,192.13 371.27,191.95 372.12,192.09 372.97,192.27 373.82,192.28 374.67,191.73 375.52,191.99 376.37,192.09 377.22,192.63 378.07,192.13 378.92,192.16 379.76,191.98 380.61,192.20 381.46,192.30 382.31,192.21 383.16,192.63 384.01,192.16 384.86,192.28 385.71,192.46 386.56,192.15 387.41,192.08 388.26,192.61 389.11,192.50 389.96,192.36 390.81,192.39 391.66,192.49 392.50,192.60 393.35,192.10 394.20,192.29 395.05,192.66 395.90,192.70 396.75,192.21 397.60,192.33 398.45,192.21 399.30,192.38 400.15,192.66 401.00,192.49 401.85,192.89 402.70,192.67 403.55,192.56 404.40,192.48 405.24,192.69 406.09,192.60 406.94,192.51 407.79,192.53 408.64,192.49 409.49,192.57 410.34,192.66 411.19,192.49 412.04,192.61 412.89,192.76 413.74,192.74 414.59,192.64 415.44,192.66 416.29,192.63 417.14,192.66 417.98,192.64 418.83,192.69"/>
<text x="159.7" y="116.6" font-size="21" text-anchor="end" style="font-family:'Liberation Serif',serif;stroke-width:0.25px" >0.04</text>
<text x="159.7" y="158.2" font-size="21" text-anchor="end" style="font-family:'Liberation Serif',serif;stroke-width:0.25px" >0.02</text>
<text x="159.7" y="199.6" font-size="21" text-anchor="end" style="font-family:'Liberation Serif',serif;stroke-width:0.25px" >0</text>
<text x="221.9" y="219.4" font-size="21" text-anchor="middle" style="font-family:'Liberation Serif',serif;stroke-width:0.25px" >1540</text>
<text x="363.45" y="219.4" font-size="21" text-anchor="middle" style="font-family:'Liberation Serif',serif;stroke-width:0.25px" >1545</text>
<rect x="124.1" y="621.5" width="638.9" height="465.29999999999995" fill="none" stroke="#000" stroke-width="2.2"/>
<line x1="124.1" y1="1086.8" x2="124.1" y2="1068.8" stroke="#000" stroke-width="2.2"/>
<line x1="124.1" y1="621.5" x2="124.1" y2="639.5" stroke="#000" stroke-width="2.2"/>
<line x1="230.58333333333331" y1="1086.8" x2="230.58333333333331" y2="1077.8" stroke="#000" stroke-width="2.2"/>
<line x1="230.58333333333331" y1="621.5" x2="230.58333333333331" y2="630.5" stroke="#000" stroke-width="2.2"/>
<line x1="337.06666666666666" y1="1086.8" x2="337.06666666666666" y2="1068.8" stroke="#000" stroke-width="2.2"/>
<line x1="337.06666666666666" y1="621.5" x2="337.06666666666666" y2="639.5" stroke="#000" stroke-width="2.2"/>
<line x1="443.54999999999995" y1="1086.8" x2="443.54999999999995" y2="1077.8" stroke="#000" stroke-width="2.2"/>
<line x1="443.54999999999995" y1="621.5" x2="443.54999999999995" y2="630.5" stroke="#000" stroke-width="2.2"/>
<line x1="550.0333333333333" y1="1086.8" x2="550.0333333333333" y2="1068.8" stroke="#000" stroke-width="2.2"/>
<line x1="550.0333333333333" y1="621.5" x2="550.0333333333333" y2="639.5" stroke="#000" stroke-width="2.2"/>
<line x1="656.5166666666667" y1="1086.8" x2="656.5166666666667" y2="1077.8" stroke="#000" stroke-width="2.2"/>
<line x1="656.5166666666667" y1="621.5" x2="656.5166666666667" y2="630.5" stroke="#000" stroke-width="2.2"/>
<line x1="763.0" y1="1086.8" x2="763.0" y2="1068.8" stroke="#000" stroke-width="2.2"/>
<line x1="763.0" y1="621.5" x2="763.0" y2="639.5" stroke="#000" stroke-width="2.2"/>
<line x1="124.1" y1="654.6" x2="142.1" y2="654.6" stroke="#000" stroke-width="2.2"/>
<line x1="763.0" y1="654.6" x2="745.0" y2="654.6" stroke="#000" stroke-width="2.2"/>
<line x1="124.1" y1="785.73" x2="142.1" y2="785.73" stroke="#000" stroke-width="2.2"/>
<line x1="763.0" y1="785.73" x2="745.0" y2="785.73" stroke="#000" stroke-width="2.2"/>
<line x1="124.1" y1="916.86" x2="142.1" y2="916.86" stroke="#000" stroke-width="2.2"/>
<line x1="763.0" y1="916.86" x2="745.0" y2="916.86" stroke="#000" stroke-width="2.2"/>
<line x1="124.1" y1="1047.99" x2="142.1" y2="1047.99" stroke="#000" stroke-width="2.2"/>
<line x1="763.0" y1="1047.99" x2="745.0" y2="1047.99" stroke="#000" stroke-width="2.2"/>
<g fill="#ff0000" stroke="#ff0000" stroke-width="1" stroke-linejoin="round">
<polygon points="175.1,643.4 183.8,659.0 166.3,659.0"/>
<polygon points="221.6,655.5 230.3,671.1 212.8,671.1"/>
<polygon points="252.9,661.8 261.6,677.4 244.2,677.4"/>
<polygon points="269.7,669.2 278.4,684.8 260.9,684.8"/>
<polygon points="159.0,699.3 167.8,714.9 150.2,714.9"/>
<polygon points="184.3,726.0 193.1,741.6 175.6,741.6"/>
<polygon points="192.0,719.2 200.8,734.8 183.2,734.8"/>
<polygon points="239.0,710.1 247.8,725.7 230.2,725.7"/>
<polygon points="399.9,633.7 408.6,649.3 391.1,649.3"/>
<polygon points="302.0,666.4 310.8,682.0 293.2,682.0"/>
<polygon points="323.2,674.6 331.9,690.2 314.4,690.2"/>
<polygon points="356.6,676.7 365.4,692.3 347.9,692.3"/>
<polygon points="372.1,684.7 380.9,700.3 363.4,700.3"/>
<polygon points="293.6,695.9 302.4,711.5 284.9,711.5"/>
<polygon points="294.8,704.0 303.6,719.6 286.1,719.6"/>
<polygon points="308.1,704.3 316.9,719.9 299.4,719.9"/>
<polygon points="336.4,696.1 345.1,711.7 327.6,711.7"/>
<polygon points="370.0,700.6 378.8,716.2 361.2,716.2"/>
<polygon points="400.7,670.0 409.4,685.6 391.9,685.6"/>
<polygon points="409.5,683.2 418.2,698.8 400.8,698.8"/>
<polygon points="415.1,685.5 423.9,701.1 406.4,701.1"/>
<polygon points="408.7,768.7 417.4,784.3 399.9,784.3"/>
<polygon points="569.9,663.2 578.6,678.8 561.1,678.8"/>
<polygon points="479.3,677.8 488.1,693.4 470.6,693.4"/>
<polygon points="488.9,683.8 497.6,699.4 480.1,699.4"/>
<polygon points="505.8,680.6 514.5,696.2 497.1,696.2"/>
<polygon points="527.9,680.2 536.6,695.8 519.1,695.8"/>
<polygon points="467.0,687.9 475.8,703.5 458.2,703.5"/>
<polygon points="440.0,702.4 448.8,718.0 431.2,718.0"/>
<polygon points="456.9,697.6 465.6,713.2 448.1,713.2"/>
<polygon points="535.7,702.4 544.5,718.0 527.0,718.0"/>
<polygon points="559.2,692.7 568.0,708.3 550.5,708.3"/>
<polygon points="571.2,694.7 580.0,710.3 562.5,710.3"/>
<polygon points="445.6,721.6 454.4,737.2 436.9,737.2"/>
<polygon points="507.4,717.6 516.1,733.2 498.6,733.2"/>
<polygon points="512.2,719.2 521.0,734.8 503.5,734.8"/>
<polygon points="503.5,734.9 512.2,750.5 494.8,750.5"/>
<polygon points="546.2,763.6 555.0,779.2 537.5,779.2"/>
<polygon points="666.2,653.9 675.0,669.5 657.5,669.5"/>
<polygon points="613.1,683.9 621.9,699.5 604.4,699.5"/>
<polygon points="626.5,680.7 635.2,696.3 617.8,696.3"/>
<polygon points="635.1,684.3 643.9,699.9 626.4,699.9"/>
<polygon points="646.5,691.3 655.2,706.9 637.8,706.9"/>
<polygon points="666.2,694.3 675.0,709.9 657.5,709.9"/>
<polygon points="689.2,696.3 698.0,711.9 680.5,711.9"/>
<polygon points="753.4,690.3 762.1,705.9 744.6,705.9"/>
<polygon points="756.4,698.4 765.1,714.0 747.6,714.0"/>
<polygon points="713.3,714.4 722.0,730.0 704.5,730.0"/>
<polygon points="606.1,706.4 614.9,722.0 597.4,722.0"/>
<polygon points="588.4,726.8 597.1,742.4 579.6,742.4"/>
<polygon points="625.1,729.4 633.9,745.0 616.4,745.0"/>
<polygon points="653.2,725.4 662.0,741.0 644.5,741.0"/>
<polygon points="669.2,727.8 678.0,743.4 660.5,743.4"/>
<polygon points="739.3,721.4 748.0,737.0 730.5,737.0"/>
<polygon points="700.3,745.8 709.0,761.4 691.5,761.4"/>
<polygon points="739.7,756.5 748.5,772.1 731.0,772.1"/>
<polygon points="599.0,758.5 607.8,774.1 590.2,774.1"/>
<polygon points="149.3,829.9 158.1,845.5 140.6,845.5"/>
<polygon points="302.0,823.5 310.8,839.1 293.2,839.1"/>
<polygon points="322.4,799.7 331.1,815.3 313.6,815.3"/>
<polygon points="520.0,783.8 528.8,799.4 511.2,799.4"/>
<polygon points="727.6,835.5 736.4,851.1 718.9,851.1"/>
</g>
<g fill="#0479f8">
<circle cx="148" cy="671.4" r="7.8"/>
<circle cx="158" cy="677.3" r="7.8"/>
<circle cx="183.3" cy="677.6" r="7.8"/>
<circle cx="191.3" cy="678.1" r="7.8"/>
<circle cx="173.7" cy="693.3" r="7.8"/>
<circle cx="220.7" cy="692.5" r="7.8"/>
<circle cx="235.1" cy="682.6" r="7.8"/>
<circle cx="239.1" cy="682.1" r="7.8"/>
<circle cx="251.8" cy="692.5" r="7.8"/>
<circle cx="268.6" cy="692.5" r="7.8"/>
<circle cx="293.2" cy="676.5" r="7.8"/>
<circle cx="301.3" cy="674.9" r="7.8"/>
<circle cx="294.8" cy="687.7" r="7.8"/>
<circle cx="306.1" cy="687.7" r="7.8"/>
<circle cx="321.3" cy="669.3" r="7.8"/>
<circle cx="335.7" cy="675.7" r="7.8"/>
<circle cx="355.8" cy="677.8" r="7.8"/>
<circle cx="355.8" cy="697.3" r="7.8"/>
<circle cx="369.4" cy="694.9" r="7.8"/>
<circle cx="407.1" cy="670.1" r="7.8"/>
<circle cx="399.9" cy="695.7" r="7.8"/>
<circle cx="399.9" cy="702.9" r="7.8"/>
<circle cx="413.5" cy="698.9" r="7.8"/>
<circle cx="444.8" cy="673" r="7.8"/>
<circle cx="503.4" cy="672" r="7.8"/>
<circle cx="511.4" cy="672" r="7.8"/>
<circle cx="519.4" cy="669.3" r="7.8"/>
<circle cx="544.6" cy="669.8" r="7.8"/>
<circle cx="569.1" cy="682.1" r="7.8"/>
<circle cx="441.6" cy="698.1" r="7.8"/>
<circle cx="454.5" cy="699.7" r="7.8"/>
<circle cx="466.5" cy="702.9" r="7.8"/>
<circle cx="478.5" cy="705.4" r="7.8"/>
<circle cx="488.1" cy="704.1" r="7.8"/>
<circle cx="528.2" cy="704.5" r="7.8"/>
<circle cx="526.6" cy="709.4" r="7.8"/>
<circle cx="558.3" cy="707.8" r="7.8"/>
<circle cx="569.9" cy="707.8" r="7.8"/>
<circle cx="586" cy="671.8" r="7.8"/>
<circle cx="599" cy="670.1" r="7.8"/>
<circle cx="624.1" cy="671.1" r="7.8"/>
<circle cx="634.1" cy="677.1" r="7.8"/>
<circle cx="639.1" cy="675.1" r="7.8"/>
<circle cx="652.2" cy="672.1" r="7.8"/>
<circle cx="668.2" cy="671.1" r="7.8"/>
<circle cx="665.6" cy="685.1" r="7.8"/>
<circle cx="699.2" cy="671.1" r="7.8"/>
<circle cx="712.3" cy="673.1" r="7.8"/>
<circle cx="726.3" cy="668.1" r="7.8"/>
<circle cx="740.3" cy="670.1" r="7.8"/>
<circle cx="741.3" cy="674.1" r="7.8"/>
<circle cx="610.1" cy="712.2" r="7.8"/>
<circle cx="612" cy="706.5" r="7.8"/>
<circle cx="322.5" cy="696" r="7.8"/>
<circle cx="369.5" cy="699.5" r="7.8"/>
<circle cx="624.1" cy="714.2" r="7.8"/>
<circle cx="638.1" cy="710.2" r="7.8"/>
<circle cx="649.2" cy="714.2" r="7.8"/>
<circle cx="665.2" cy="713.2" r="7.8"/>
<circle cx="690.2" cy="715.2" r="7.8"/>
<circle cx="723.3" cy="715.2" r="7.8"/>
<circle cx="734.3" cy="716.2" r="7.8"/>
<circle cx="752.4" cy="720.2" r="7.8"/>
</g>
<g fill="#fff" stroke="#7a00ff" stroke-width="2.6" stroke-linejoin="round">
<path d="M166.9 844.7H182.5L174.7 858.3Z"/>
<path d="M213.8 858.6H229.4L221.6 872.2Z"/>
<path d="M245.3 864.4H260.9L253.1 878.0Z"/>
<path d="M261.9 872.2H277.5L269.7 885.8Z"/>
<path d="M294.6 870.2H310.2L302.4 883.8Z"/>
<path d="M315.6 876.4H331.2L323.4 890.0Z"/>
<path d="M151.3 900.5H166.9L159.1 914.1Z"/>
<path d="M183.7 918.7H199.3L191.5 932.3Z"/>
<path d="M176.3 932.4H191.9L184.1 946.0Z"/>
<path d="M228.4 917.5H244.0L236.2 931.1Z"/>
<path d="M231.8 912.5H247.4L239.6 926.1Z"/>
<path d="M285.9 895.8H301.5L293.7 909.4Z"/>
<path d="M287.5 907.1H303.1L295.3 920.7Z"/>
<path d="M299.0 909.9H314.6L306.8 923.5Z"/>
<path d="M328.6 897.0H344.2L336.4 910.6Z"/>
<path d="M349.1 877.4H364.7L356.9 891.0Z"/>
<path d="M348.3 884.4H363.9L356.1 898.0Z"/>
<path d="M363.3 888.2H378.9L371.1 901.8Z"/>
<path d="M359.9 887.4H375.5L367.7 901.0Z"/>
<path d="M362.1 905.1H377.7L369.9 918.7Z"/>
<path d="M392.8 873.0H408.4L400.6 886.6Z"/>
<path d="M400.4 888.6H416.0L408.2 902.2Z"/>
<path d="M405.8 890.2H421.4L413.6 903.8Z"/>
<path d="M434.7 906.5H450.3L442.5 920.1Z"/>
<path d="M437.7 921.5H453.3L445.5 935.1Z"/>
<path d="M447.1 900.5H462.7L454.9 914.1Z"/>
<path d="M459.1 893.4H474.7L466.9 907.0Z"/>
<path d="M471.9 883.4H487.5L479.7 897.0Z"/>
<path d="M480.9 889.4H496.5L488.7 903.0Z"/>
<path d="M498.6 886.4H514.2L506.4 900.0Z"/>
<path d="M504.6 898.4H520.2L512.4 912.0Z"/>
<path d="M502.2 916.2H517.8L510.0 929.8Z"/>
<path d="M495.6 934.2H511.2L503.4 947.8Z"/>
<path d="M561.9 863.0H577.5L569.7 876.6Z"/>
<path d="M658.1 854.8H673.7L665.9 868.4Z"/>
<path d="M519.0 885.6H534.6L526.8 899.2Z"/>
<path d="M520.2 904.5H535.8L528.0 918.1Z"/>
<path d="M523.7 906.5H539.3L531.5 920.1Z"/>
<path d="M551.3 900.5H566.9L559.1 914.1Z"/>
<path d="M563.3 901.5H578.9L571.1 915.1Z"/>
<path d="M580.6 925.9H596.2L588.4 939.5Z"/>
<path d="M604.4 890.2H620.0L612.2 903.8Z"/>
<path d="M626.1 883.4H641.7L633.9 897.0Z"/>
<path d="M632.5 894.2H648.1L640.3 907.8Z"/>
<path d="M638.5 899.9H654.1L646.3 913.5Z"/>
<path d="M622.4 900.5H638.0L630.2 914.1Z"/>
<path d="M600.4 912.9H616.0L608.2 926.5Z"/>
<path d="M604.4 908.5H620.0L612.2 922.1Z"/>
<path d="M611.8 908.7H627.4L619.6 922.3Z"/>
<path d="M627.7 909.5H643.3L635.5 923.1Z"/>
<path d="M658.1 903.9H673.7L665.9 917.5Z"/>
<path d="M683.6 903.7H699.2L691.4 917.3Z"/>
<path d="M691.4 914.5H707.0L699.2 928.1Z"/>
<path d="M645.5 924.3H661.1L653.3 937.9Z"/>
<path d="M661.1 926.8H676.7L668.9 940.4Z"/>
<path d="M617.8 930.1H633.4L625.6 943.7Z"/>
<path d="M698.4 916.2H714.0L706.2 929.8Z"/>
<path d="M705.2 911.9H720.8L713.0 925.5Z"/>
<path d="M714.4 914.2H730.0L722.2 927.8Z"/>
<path d="M728.9 907.8H744.5L736.7 921.4Z"/>
<path d="M732.0 921.0H747.6L739.8 934.6Z"/>
<path d="M734.3 909.9H749.9L742.1 923.5Z"/>
<path d="M745.5 898.6H761.1L753.3 912.2Z"/>
<path d="M747.1 908.1H762.7L754.9 921.7Z"/>
<path d="M392.3 835.7H407.9L400.1 849.3Z"/>
<path d="M141.2 1013.4H156.8L149.0 1027.0Z"/>
<path d="M294.6 1023.0H310.2L302.4 1036.6Z"/>
<path d="M314.0 999.8H329.6L321.8 1013.4Z"/>
<path d="M401.2 963.3H416.8L409.0 976.9Z"/>
<path d="M398.8 972.9H414.4L406.6 986.5Z"/>
<path d="M592.0 958.3H607.6L599.8 971.9Z"/>
<path d="M537.3 965.3H552.9L545.1 978.9Z"/>
<path d="M512.2 982.9H527.8L520.0 996.5Z"/>
<path d="M692.4 944.6H708.0L700.2 958.2Z"/>
<path d="M732.1 973.1H747.7L739.9 986.7Z"/>
<path d="M719.7 1033.0H735.3L727.5 1046.6Z"/>
</g>
<g fill="#fff" stroke="#00ff00" stroke-width="2.6" stroke-linejoin="round">
<path d="M434.6 761.1H450.2L442.4 774.7Z"/>
<path d="M459.5 758.2H475.1L467.3 771.8Z"/>
<path d="M471.2 759.5H486.8L479.0 773.1Z"/>
<path d="M480.6 758.7H496.2L488.4 772.3Z"/>
<path d="M498.3 755.5H513.9L506.1 769.1Z"/>
<path d="M505.5 754.7H521.1L513.3 768.3Z"/>
<path d="M518.8 751.8H534.4L526.6 765.4Z"/>
<path d="M523.9 751.8H539.5L531.7 765.4Z"/>
<path d="M551.7 749.1H567.3L559.5 762.7Z"/>
<path d="M563.4 749.1H579.0L571.2 762.7Z"/>
<path d="M601.3 743.4H616.9L609.1 757.0Z"/>
<path d="M608.3 743.0H623.9L616.1 756.6Z"/>
<path d="M616.3 743.0H631.9L624.1 756.6Z"/>
<path d="M621.3 743.0H636.9L629.1 756.6Z"/>
<path d="M628.3 742.4H643.9L636.1 756.0Z"/>
<path d="M638.3 741.4H653.9L646.1 755.0Z"/>
<path d="M684.4 738.4H700.0L692.2 752.0Z"/>
<path d="M692.5 738.4H708.1L700.3 752.0Z"/>
<path d="M698.5 737.4H714.1L706.3 751.0Z"/>
<path d="M714.5 735.8H730.1L722.3 749.4Z"/>
<path d="M729.5 734.4H745.1L737.3 748.0Z"/>
<path d="M737.5 733.4H753.1L745.3 747.0Z"/>
<path d="M747.6 734.4H763.2L755.4 748.0Z"/>
<path d="M731.5 747.0H747.1L739.3 760.6Z"/>
<path d="M658.4 762.5H674.0L666.2 776.1Z"/>
<path d="M141.2 855.8H156.8L149.0 869.4Z"/>
<path d="M175.9 833.3H191.5L183.7 846.9Z"/>
<path d="M183.9 833.7H199.5L191.7 847.3Z"/>
<path d="M213.4 826.9H229.0L221.2 840.5Z"/>
<path d="M228.4 804.9H244.0L236.2 818.5Z"/>
<path d="M231.8 810.3H247.4L239.6 823.9Z"/>
<path d="M244.9 813.3H260.5L252.7 826.9Z"/>
<path d="M261.9 800.9H277.5L269.7 814.5Z"/>
<path d="M287.0 786.2H302.6L294.8 799.8Z"/>
<path d="M293.8 790.7H309.4L301.6 804.3Z"/>
<path d="M299.2 786.2H314.8L307.0 799.8Z"/>
<path d="M167.3 875.0H182.9L175.1 888.6Z"/>
<path d="M151.3 906.5H166.9L159.1 920.1Z"/>
<path d="M315.4 782.2H331.0L323.2 795.8Z"/>
<path d="M348.2 778.9H363.8L356.0 792.5Z"/>
<path d="M362.7 774.9H378.3L370.5 788.5Z"/>
<path d="M392.5 771.0H408.1L400.3 784.6Z"/>
<path d="M403.6 766.4H419.2L411.4 780.0Z"/>
<path d="M657.9 801.2H673.5L665.7 814.8Z"/>
<path d="M732.1 834.1H747.7L739.9 847.7Z"/>
</g>
<g fill="#00ffff">
<rect x="140.3" y="691.3" width="16" height="16"/>
<rect x="149.7" y="715.1" width="16" height="16"/>
<rect x="175.2" y="707.9" width="16" height="16"/>
<rect x="182.9" y="710.6" width="16" height="16"/>
<rect x="227.6" y="718.7" width="16" height="16"/>
<rect x="230.2" y="718.7" width="16" height="16"/>
<rect x="260.6" y="775.4" width="16" height="16"/>
<rect x="313.3" y="689.1" width="16" height="16"/>
<rect x="284.8" y="715.6" width="16" height="16"/>
<rect x="293.3" y="715.6" width="16" height="16"/>
<rect x="286.5" y="730.5" width="16" height="16"/>
<rect x="298.4" y="730.2" width="16" height="16"/>
<rect x="327.4" y="714.5" width="16" height="16"/>
<rect x="347.4" y="724.6" width="16" height="16"/>
<rect x="360.7" y="741.8" width="16" height="16"/>
<rect x="360.9" y="763.4" width="16" height="16"/>
<rect x="399.2" y="692.4" width="16" height="16"/>
<rect x="402.3" y="770.3" width="16" height="16"/>
<rect x="314.4" y="781.5" width="16" height="16"/>
<rect x="348.5" y="783.8" width="16" height="16"/>
<rect x="391.1" y="786.3" width="16" height="16"/>
<rect x="436.8" y="702.3" width="16" height="16"/>
<rect x="494.9" y="698.0" width="16" height="16"/>
<rect x="501.0" y="703.8" width="16" height="16"/>
<rect x="511.2" y="691.1" width="16" height="16"/>
<rect x="536.6" y="692.5" width="16" height="16"/>
<rect x="579.8" y="700.4" width="16" height="16"/>
<rect x="433.5" y="751.4" width="16" height="16"/>
<rect x="446.8" y="759.4" width="16" height="16"/>
<rect x="458.5" y="775.8" width="16" height="16"/>
<rect x="504.6" y="772.8" width="16" height="16"/>
<rect x="520.2" y="765.5" width="16" height="16"/>
<rect x="518.6" y="770.3" width="16" height="16"/>
<rect x="561.4" y="754.3" width="16" height="16"/>
<rect x="549.8" y="782.0" width="16" height="16"/>
<rect x="562.0" y="781.3" width="16" height="16"/>
<rect x="591.5" y="693.7" width="16" height="16"/>
<rect x="616.5" y="699.6" width="16" height="16"/>
<rect x="631.1" y="714.6" width="16" height="16"/>
<rect x="625.5" y="722.2" width="16" height="16"/>
<rect x="644.6" y="701.2" width="16" height="16"/>
<rect x="660.6" y="699.6" width="16" height="16"/>
<rect x="691.7" y="696.1" width="16" height="16"/>
<rect x="704.7" y="705.8" width="16" height="16"/>
<rect x="718.7" y="688.5" width="16" height="16"/>
<rect x="730.7" y="693.1" width="16" height="16"/>
<rect x="732.7" y="705.8" width="16" height="16"/>
<rect x="600.4" y="769.0" width="16" height="16"/>
<rect x="610.4" y="777.8" width="16" height="16"/>
<rect x="626.6" y="782.4" width="16" height="16"/>
<rect x="657.4" y="774.7" width="16" height="16"/>
<rect x="689.8" y="781.4" width="16" height="16"/>
<rect x="698.1" y="781.0" width="16" height="16"/>
<rect x="731.1" y="781.2" width="16" height="16"/>
<rect x="166.1" y="871.2" width="16" height="16"/>
<rect x="212.4" y="822.3" width="16" height="16"/>
<rect x="243.7" y="794.8" width="16" height="16"/>
<rect x="479.7" y="788.4" width="16" height="16"/>
<rect x="470.7" y="807.7" width="16" height="16"/>
<rect x="497.8" y="812.5" width="16" height="16"/>
<rect x="392.0" y="833.7" width="16" height="16"/>
<rect x="620.6" y="795.6" width="16" height="16"/>
<rect x="637.7" y="805.7" width="16" height="16"/>
<rect x="656.9" y="801.5" width="16" height="16"/>
<rect x="682.4" y="806.5" width="16" height="16"/>
<rect x="518.0" y="823.1" width="16" height="16"/>
<rect x="603.2" y="836.5" width="16" height="16"/>
<rect x="617.6" y="885.6" width="16" height="16"/>
<rect x="713.5" y="790.0" width="16" height="16"/>
<rect x="728.0" y="814.0" width="16" height="16"/>
<rect x="739.6" y="808.1" width="16" height="16"/>
<rect x="746.1" y="814.5" width="16" height="16"/>
<rect x="744.1" y="873.5" width="16" height="16"/>
</g>
<text x="98.2" y="665.9" font-size="41.5" text-anchor="end" style="font-family:'Liberation Serif',serif" >10</text>
<text x="97.7" y="648.4" font-size="29.5" text-anchor="start" style="font-family:'Liberation Serif',serif" >0</text>
<text x="98.2" y="797.03" font-size="41.5" text-anchor="end" style="font-family:'Liberation Serif',serif" >10</text>
<text x="97.7" y="778.9300000000001" font-size="29.5" text-anchor="start" style="font-family:'Liberation Serif',serif" >-1</text>
<text x="98.2" y="928.16" font-size="41.5" text-anchor="end" style="font-family:'Liberation Serif',serif" >10</text>
<text x="97.7" y="910.0600000000001" font-size="29.5" text-anchor="start" style="font-family:'Liberation Serif',serif" >-2</text>
<text x="98.2" y="1059.29" font-size="41.5" text-anchor="end" style="font-family:'Liberation Serif',serif" >10</text>
<text x="97.7" y="1041.19" font-size="29.5" text-anchor="start" style="font-family:'Liberation Serif',serif" >-3</text>
<text x="124.5" y="1125.5" font-size="41.5" text-anchor="middle" style="font-family:'Liberation Serif',serif" >0</text>
<text x="337.1" y="1125.5" font-size="41.5" text-anchor="middle" style="font-family:'Liberation Serif',serif" >1</text>
<text x="550.9" y="1125.5" font-size="41.5" text-anchor="middle" style="font-family:'Liberation Serif',serif" >2</text>
<text x="762.7" y="1125.5" font-size="41.5" text-anchor="middle" style="font-family:'Liberation Serif',serif" >3</text>
<text x="307.5" y="1173.1" font-size="41.4" text-anchor="start" style="font-family:'Liberation Serif',serif" >Frequency (MHz)</text>
<text transform="translate(29.5,981.8) rotate(-90)" font-size="41.3" style="font-family:'Liberation Serif',serif">Contribution</text>
<text x="-2" y="608.1" font-size="33" text-anchor="start" style="font-family:'Liberation Sans',sans-serif;stroke-width:0" >(b)</text>
<rect x="798.3" y="625" width="167.3" height="246.6" fill="#000"/>
<rect x="793.55" y="620.55" width="165" height="244" fill="#fff" stroke="#000" stroke-width="2.5"/>
<polygon fill="#ff0000" stroke="#ff0000" stroke-width="1" stroke-linejoin="round" points="835.8,646.5 844.3,661.5 827.3,661.5"/>
<circle fill="#0479f8" cx="834.8" cy="696.0" r="7.6"/>
<path fill="none" stroke="#7a00ff" stroke-width="2.6" stroke-linejoin="round" d="M828.0 733.4H843.6L835.8 747.0Z"/>
<path fill="none" stroke="#00ff00" stroke-width="2.6" stroke-linejoin="round" d="M828.0 774.7H843.6L835.8 788.3Z"/>
<rect fill="#00ffff" x="827.0" y="812.0" width="15.7" height="15.5"/>
<text x="877.1" y="671.7" font-size="41.5" style="font-family:'Liberation Serif',serif;font-style:italic">E</text>
<text x="902.5" y="679.9000000000001" font-size="29.5" style="font-family:'Liberation Serif',serif">1</text>
<text x="877.1" y="713.0" font-size="41.5" style="font-family:'Liberation Serif',serif;font-style:italic">C</text>
<text x="904.7" y="720.6" font-size="29.5" style="font-family:'Liberation Serif',serif">11</text>
<text x="877.1" y="754.3" font-size="41.5" style="font-family:'Liberation Serif',serif;font-style:italic">C</text>
<text x="903.7" y="761.9" font-size="29.5" style="font-family:'Liberation Serif',serif">33</text>
<text x="877.1" y="795.4" font-size="41.5" style="font-family:'Liberation Serif',serif;font-style:italic">C</text>
<text x="903.7" y="803.0" font-size="29.5" style="font-family:'Liberation Serif',serif">44</text>
<text x="877.1" y="836.5" font-size="41.5" style="font-family:'Liberation Serif',serif;font-style:italic">C</text>
<text x="903.7" y="844.1" font-size="29.5" style="font-family:'Liberation Serif',serif">66</text></svg>
</body></html>
